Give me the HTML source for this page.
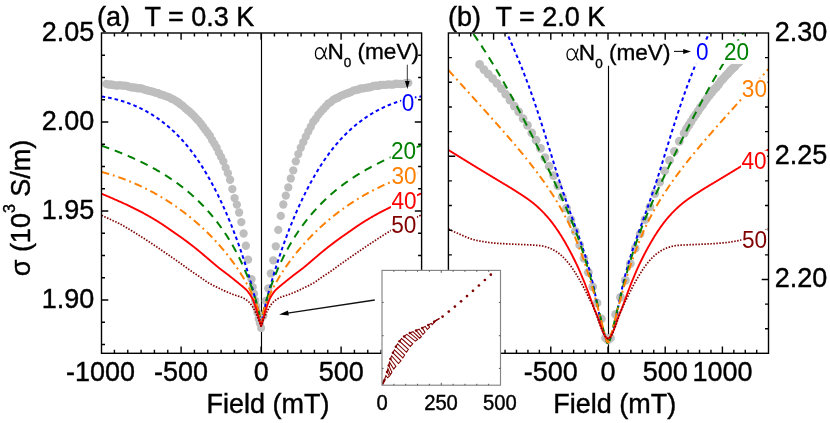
<!DOCTYPE html>
<html lang="en">
<head>
<meta charset="utf-8">
<title>Magnetoconductance</title>
<style>html,body{margin:0;padding:0;background:#fff;}body{width:830px;height:423px;overflow:hidden;font-family:"Liberation Sans", sans-serif;}svg{display:block}</style>
</head>
<body>
<svg width="830" height="423" viewBox="0 0 830 423" style="display:block;will-change:transform;font-family:'Liberation Sans', sans-serif">
<rect x="0" y="0" width="830" height="423" fill="#ffffff"/>
<defs>
<clipPath id="cl"><rect x="101.5" y="33" width="320.1" height="320.3"/></clipPath>
<clipPath id="cr"><rect x="448.4" y="33" width="320.1" height="320.3"/></clipPath>
<clipPath id="ci"><rect x="382" y="270.4" width="118.5" height="114.8"/></clipPath>
</defs>
<g clip-path="url(#cl)">
<line x1="261.5" y1="33" x2="261.5" y2="353.3" stroke="#000" stroke-width="1.15"/>
<g fill="#bebebe"><circle cx="259.9" cy="323.14" r="4.15"/><circle cx="258.7" cy="318.7" r="4.15"/><circle cx="257.5" cy="312.57" r="4.15"/><circle cx="256.3" cy="306.52" r="4.15"/><circle cx="255.1" cy="300.53" r="4.15"/><circle cx="253.9" cy="293.76" r="4.15"/><circle cx="252.7" cy="287.08" r="4.15"/><circle cx="251.5" cy="279.2" r="4.15"/><circle cx="248.1" cy="259.58" r="4.15"/><circle cx="245.85" cy="245.76" r="4.15"/><circle cx="243.6" cy="233.52" r="4.15"/><circle cx="241.35" cy="222.12" r="4.15"/><circle cx="239.1" cy="212.5" r="4.15"/><circle cx="236.85" cy="204.63" r="4.15"/><circle cx="234.6" cy="198.12" r="4.15"/><circle cx="232.35" cy="189.1" r="4.15"/><circle cx="230.1" cy="179.77" r="4.15"/><circle cx="227.85" cy="173.14" r="4.15"/><circle cx="225.6" cy="167.56" r="4.15"/><circle cx="223.35" cy="161.33" r="4.15"/><circle cx="221.1" cy="156.9" r="4.15"/><circle cx="218.85" cy="152.61" r="4.15"/><circle cx="216.6" cy="147.55" r="4.15"/><circle cx="214.35" cy="143.65" r="4.15"/><circle cx="212.1" cy="140.05" r="4.15"/><circle cx="209.85" cy="135.74" r="4.15"/><circle cx="207.6" cy="132.74" r="4.15"/><circle cx="205.35" cy="129.79" r="4.15"/><circle cx="203.1" cy="126.75" r="4.15"/><circle cx="200.85" cy="123.78" r="4.15"/><circle cx="198.6" cy="120.92" r="4.15"/><circle cx="196.35" cy="118.65" r="4.15"/><circle cx="194.1" cy="116.13" r="4.15"/><circle cx="191.85" cy="113.91" r="4.15"/><circle cx="189.6" cy="111.63" r="4.15"/><circle cx="187.35" cy="110.01" r="4.15"/><circle cx="185.1" cy="108.06" r="4.15"/><circle cx="182.85" cy="105.86" r="4.15"/><circle cx="180.6" cy="104.38" r="4.15"/><circle cx="178.35" cy="102.48" r="4.15"/><circle cx="176.1" cy="101.13" r="4.15"/><circle cx="173.85" cy="99.67" r="4.15"/><circle cx="171.6" cy="98.73" r="4.15"/><circle cx="169.35" cy="97.42" r="4.15"/><circle cx="167.1" cy="96.54" r="4.15"/><circle cx="164.85" cy="95.88" r="4.15"/><circle cx="162.6" cy="94.78" r="4.15"/><circle cx="160.35" cy="94.45" r="4.15"/><circle cx="158.1" cy="93.07" r="4.15"/><circle cx="155.85" cy="92.89" r="4.15"/><circle cx="153.6" cy="91.94" r="4.15"/><circle cx="151.35" cy="91.31" r="4.15"/><circle cx="149.1" cy="90.89" r="4.15"/><circle cx="146.85" cy="90.21" r="4.15"/><circle cx="144.6" cy="89.56" r="4.15"/><circle cx="142.35" cy="88.67" r="4.15"/><circle cx="140.1" cy="88.25" r="4.15"/><circle cx="137.85" cy="88.34" r="4.15"/><circle cx="135.6" cy="87.74" r="4.15"/><circle cx="133.35" cy="87.48" r="4.15"/><circle cx="131.1" cy="87.32" r="4.15"/><circle cx="128.85" cy="86.71" r="4.15"/><circle cx="126.6" cy="85.79" r="4.15"/><circle cx="124.35" cy="85.7" r="4.15"/><circle cx="122.1" cy="85.68" r="4.15"/><circle cx="119.85" cy="85.1" r="4.15"/><circle cx="117.6" cy="85.53" r="4.15"/><circle cx="115.35" cy="85.29" r="4.15"/><circle cx="113.1" cy="85.01" r="4.15"/><circle cx="110.85" cy="84.48" r="4.15"/><circle cx="108.6" cy="84.64" r="4.15"/><circle cx="106.35" cy="83.84" r="4.15"/></g>
<g fill="#bebebe"><circle cx="263.3" cy="315.83" r="4.15"/><circle cx="265.8" cy="300.87" r="4.15"/><circle cx="268.3" cy="288.37" r="4.15"/><circle cx="270.8" cy="273.45" r="4.15"/><circle cx="273.3" cy="260.3" r="4.15"/><circle cx="275.8" cy="246.3" r="4.15"/><circle cx="278.3" cy="229.93" r="4.15"/><circle cx="280.8" cy="215.92" r="4.15"/><circle cx="283.3" cy="204.48" r="4.15"/><circle cx="285.8" cy="195.58" r="4.15"/><circle cx="288.3" cy="187.4" r="4.15"/><circle cx="290.8" cy="178.47" r="4.15"/><circle cx="293.3" cy="170.32" r="4.15"/><circle cx="295.8" cy="161.34" r="4.15"/><circle cx="298.3" cy="154.08" r="4.15"/><circle cx="300.8" cy="147.76" r="4.15"/><circle cx="303.3" cy="142.17" r="4.15"/><circle cx="305.8" cy="136.67" r="4.15"/><circle cx="308.3" cy="131.49" r="4.15"/><circle cx="310.8" cy="126.7" r="4.15"/><circle cx="313.3" cy="121.71" r="4.15"/><circle cx="315.8" cy="118.71" r="4.15"/><circle cx="318.3" cy="114.8" r="4.15"/><circle cx="320.8" cy="111.84" r="4.15"/><circle cx="323.3" cy="109.16" r="4.15"/><circle cx="325.8" cy="106.39" r="4.15"/><circle cx="328.3" cy="103.55" r="4.15"/><circle cx="330.8" cy="102.08" r="4.15"/><circle cx="333.3" cy="99.81" r="4.15"/><circle cx="335.8" cy="98.49" r="4.15"/><circle cx="338.3" cy="97.48" r="4.15"/><circle cx="340.8" cy="95.85" r="4.15"/><circle cx="343.3" cy="94.85" r="4.15"/><circle cx="345.8" cy="93.9" r="4.15"/><circle cx="348.3" cy="93.01" r="4.15"/><circle cx="350.8" cy="92.06" r="4.15"/><circle cx="353.3" cy="90.56" r="4.15"/><circle cx="355.8" cy="90.18" r="4.15"/><circle cx="358.3" cy="89.52" r="4.15"/><circle cx="360.8" cy="88.5" r="4.15"/><circle cx="363.3" cy="88.32" r="4.15"/><circle cx="365.8" cy="87.81" r="4.15"/><circle cx="368.3" cy="87.49" r="4.15"/><circle cx="370.8" cy="87.13" r="4.15"/><circle cx="373.3" cy="86" r="4.15"/><circle cx="375.8" cy="85.72" r="4.15"/><circle cx="378.3" cy="85.77" r="4.15"/><circle cx="380.8" cy="84.99" r="4.15"/><circle cx="383.3" cy="84.79" r="4.15"/><circle cx="385.8" cy="84.87" r="4.15"/><circle cx="388.3" cy="84.29" r="4.15"/><circle cx="390.8" cy="84.67" r="4.15"/><circle cx="393.3" cy="84.57" r="4.15"/><circle cx="395.8" cy="83.67" r="4.15"/><circle cx="398.3" cy="83.95" r="4.15"/><circle cx="400.8" cy="84.01" r="4.15"/><circle cx="403.3" cy="83.97" r="4.15"/><circle cx="405.8" cy="83.13" r="4.15"/><circle cx="408.3" cy="82.82" r="4.15"/></g>
<circle cx="261.1" cy="328" r="4" fill="#bebebe"/>
<path d="M101.6 96.49 L102.1 96.56 L102.6 96.64 L103.1 96.71 L103.6 96.79 L104.1 96.87 L104.6 96.96 L105.1 97.04 L105.6 97.13 L106.1 97.21 L106.6 97.3 L107.1 97.39 L107.6 97.49 L108.1 97.58 L108.6 97.68 L109.1 97.78 L109.6 97.88 L110.1 97.98 L110.6 98.09 L111.1 98.2 L111.6 98.31 L112.1 98.42 L112.6 98.53 L113.1 98.64 L113.6 98.76 L114.1 98.88 L114.6 99 L115.1 99.12 L115.6 99.25 L116.1 99.37 L116.6 99.5 L117.1 99.64 L117.6 99.77 L118.1 99.9 L118.6 100.04 L119.1 100.18 L119.6 100.32 L120.1 100.47 L120.6 100.61 L121.1 100.76 L121.6 100.91 L122.1 101.06 L122.6 101.22 L123.1 101.37 L123.6 101.53 L124.1 101.69 L124.6 101.86 L125.1 102.02 L125.6 102.19 L126.1 102.36 L126.6 102.53 L127.1 102.71 L127.6 102.89 L128.1 103.07 L128.6 103.25 L129.1 103.43 L129.6 103.62 L130.1 103.81 L130.6 104 L131.1 104.19 L131.6 104.39 L132.1 104.59 L132.6 104.79 L133.1 104.99 L133.6 105.2 L134.1 105.41 L134.6 105.62 L135.1 105.83 L135.6 106.05 L136.1 106.27 L136.6 106.49 L137.1 106.71 L137.6 106.94 L138.1 107.17 L138.6 107.4 L139.1 107.63 L139.6 107.87 L140.1 108.11 L140.6 108.35 L141.1 108.6 L141.6 108.84 L142.1 109.09 L142.6 109.35 L143.1 109.6 L143.6 109.86 L144.1 110.12 L144.6 110.39 L145.1 110.66 L145.6 110.93 L146.1 111.2 L146.6 111.48 L147.1 111.75 L147.6 112.04 L148.1 112.32 L148.6 112.61 L149.1 112.9 L149.6 113.19 L150.1 113.49 L150.6 113.79 L151.1 114.09 L151.6 114.4 L152.1 114.71 L152.6 115.02 L153.1 115.34 L153.6 115.66 L154.1 115.98 L154.6 116.3 L155.1 116.63 L155.6 116.97 L156.1 117.3 L156.6 117.64 L157.1 117.98 L157.6 118.33 L158.1 118.68 L158.6 119.03 L159.1 119.38 L159.6 119.74 L160.1 120.1 L160.6 120.47 L161.1 120.84 L161.6 121.21 L162.1 121.59 L162.6 121.97 L163.1 122.36 L163.6 122.74 L164.1 123.13 L164.6 123.53 L165.1 123.93 L165.6 124.33 L166.1 124.74 L166.6 125.15 L167.1 125.56 L167.6 125.98 L168.1 126.41 L168.6 126.83 L169.1 127.26 L169.6 127.7 L170.1 128.14 L170.6 128.58 L171.1 129.03 L171.6 129.48 L172.1 129.93 L172.6 130.39 L173.1 130.86 L173.6 131.32 L174.1 131.8 L174.6 132.27 L175.1 132.75 L175.6 133.24 L176.1 133.73 L176.6 134.23 L177.1 134.73 L177.6 135.23 L178.1 135.74 L178.6 136.25 L179.1 136.77 L179.6 137.3 L180.1 137.82 L180.6 138.36 L181.1 138.9 L181.6 139.44 L182.1 139.99 L182.6 140.54 L183.1 141.1 L183.6 141.66 L184.1 142.23 L184.6 142.81 L185.1 143.38 L185.6 143.97 L186.1 144.56 L186.6 145.16 L187.1 145.76 L187.6 146.36 L188.1 146.98 L188.6 147.6 L189.1 148.22 L189.6 148.85 L190.1 149.49 L190.6 150.13 L191.1 150.78 L191.6 151.43 L192.1 152.09 L192.6 152.76 L193.1 153.43 L193.6 154.11 L194.1 154.79 L194.6 155.48 L195.1 156.18 L195.6 156.88 L196.1 157.59 L196.6 158.31 L197.1 159.03 L197.6 159.76 L198.1 160.49 L198.6 161.23 L199.1 161.98 L199.6 162.73 L200.1 163.49 L200.6 164.26 L201.1 165.03 L201.6 165.81 L202.1 166.59 L202.6 167.39 L203.1 168.19 L203.6 168.99 L204.1 169.8 L204.6 170.62 L205.1 171.45 L205.6 172.28 L206.1 173.12 L206.6 173.97 L207.1 174.82 L207.6 175.68 L208.1 176.55 L208.6 177.42 L209.1 178.3 L209.6 179.19 L210.1 180.08 L210.6 180.99 L211.1 181.89 L211.6 182.81 L212.1 183.73 L212.6 184.67 L213.1 185.6 L213.6 186.55 L214.1 187.5 L214.6 188.46 L215.1 189.43 L215.6 190.41 L216.1 191.39 L216.6 192.38 L217.1 193.38 L217.6 194.38 L218.1 195.4 L218.6 196.42 L219.1 197.45 L219.6 198.49 L220.1 199.53 L220.6 200.59 L221.1 201.65 L221.6 202.72 L222.1 203.8 L222.6 204.88 L223.1 205.98 L223.6 207.08 L224.1 208.19 L224.6 209.31 L225.1 210.44 L225.6 211.58 L226.1 212.72 L226.6 213.88 L227.1 215.04 L227.6 216.21 L228.1 217.4 L228.6 218.59 L229.1 219.79 L229.6 220.99 L230.1 222.21 L230.6 223.44 L231.1 224.68 L231.6 225.92 L232.1 227.18 L232.6 228.45 L233.1 229.72 L233.6 231.01 L234.1 232.31 L234.6 233.61 L235.1 234.93 L235.6 236.26 L236.1 237.6 L236.6 238.94 L237.1 240.3 L237.6 241.67 L238.1 243.06 L238.6 244.45 L239.1 245.85 L239.6 247.27 L240.1 248.7 L240.6 250.14 L241.1 251.59 L241.6 253.05 L242.1 254.53 L242.6 256.02 L243.1 257.52 L243.6 259.03 L244.1 260.56 L244.6 262.1 L245.1 263.66 L245.6 265.23 L246.1 266.81 L246.6 268.41 L247.1 270.02 L247.6 271.65 L248.1 273.29 L248.6 274.96 L249.1 276.63 L249.6 278.33 L250.1 280.04 L250.6 281.77 L251.1 283.52 L251.6 285.29 L252.1 287.07 L252.6 288.88 L253.1 290.71 L253.6 292.57 L254.1 294.44 L254.6 296.35 L255.1 298.28 L255.6 300.23 L256.1 302.22 L256.6 304.24 L257.1 306.3 L257.6 308.4 L258.1 310.54 L258.6 312.74 L259.1 315 L259.6 317.34 L260.1 319.79 L260.6 322.43 L261.1 326 L261.6 322.43 L262.1 319.79 L262.6 317.34 L263.1 315 L263.6 312.74 L264.1 310.54 L264.6 308.4 L265.1 306.3 L265.6 304.24 L266.1 302.22 L266.6 300.23 L267.1 298.28 L267.6 296.35 L268.1 294.44 L268.6 292.57 L269.1 290.71 L269.6 288.88 L270.1 287.07 L270.6 285.29 L271.1 283.52 L271.6 281.77 L272.1 280.04 L272.6 278.33 L273.1 276.63 L273.6 274.96 L274.1 273.29 L274.6 271.65 L275.1 270.02 L275.6 268.41 L276.1 266.81 L276.6 265.23 L277.1 263.66 L277.6 262.1 L278.1 260.56 L278.6 259.03 L279.1 257.52 L279.6 256.02 L280.1 254.53 L280.6 253.05 L281.1 251.59 L281.6 250.14 L282.1 248.7 L282.6 247.27 L283.1 245.85 L283.6 244.45 L284.1 243.06 L284.6 241.67 L285.1 240.3 L285.6 238.94 L286.1 237.6 L286.6 236.26 L287.1 234.93 L287.6 233.61 L288.1 232.31 L288.6 231.01 L289.1 229.72 L289.6 228.45 L290.1 227.18 L290.6 225.92 L291.1 224.68 L291.6 223.44 L292.1 222.21 L292.6 220.99 L293.1 219.79 L293.6 218.59 L294.1 217.4 L294.6 216.21 L295.1 215.04 L295.6 213.88 L296.1 212.72 L296.6 211.58 L297.1 210.44 L297.6 209.31 L298.1 208.19 L298.6 207.08 L299.1 205.98 L299.6 204.88 L300.1 203.8 L300.6 202.72 L301.1 201.65 L301.6 200.59 L302.1 199.53 L302.6 198.49 L303.1 197.45 L303.6 196.42 L304.1 195.4 L304.6 194.38 L305.1 193.38 L305.6 192.38 L306.1 191.39 L306.6 190.41 L307.1 189.43 L307.6 188.46 L308.1 187.5 L308.6 186.55 L309.1 185.6 L309.6 184.67 L310.1 183.73 L310.6 182.81 L311.1 181.89 L311.6 180.99 L312.1 180.08 L312.6 179.19 L313.1 178.3 L313.6 177.42 L314.1 176.55 L314.6 175.68 L315.1 174.82 L315.6 173.97 L316.1 173.12 L316.6 172.28 L317.1 171.45 L317.6 170.62 L318.1 169.8 L318.6 168.99 L319.1 168.19 L319.6 167.39 L320.1 166.59 L320.6 165.81 L321.1 165.03 L321.6 164.26 L322.1 163.49 L322.6 162.73 L323.1 161.98 L323.6 161.23 L324.1 160.49 L324.6 159.76 L325.1 159.03 L325.6 158.31 L326.1 157.59 L326.6 156.88 L327.1 156.18 L327.6 155.48 L328.1 154.79 L328.6 154.11 L329.1 153.43 L329.6 152.76 L330.1 152.09 L330.6 151.43 L331.1 150.78 L331.6 150.13 L332.1 149.49 L332.6 148.85 L333.1 148.22 L333.6 147.6 L334.1 146.98 L334.6 146.36 L335.1 145.76 L335.6 145.16 L336.1 144.56 L336.6 143.97 L337.1 143.38 L337.6 142.81 L338.1 142.23 L338.6 141.66 L339.1 141.1 L339.6 140.54 L340.1 139.99 L340.6 139.44 L341.1 138.9 L341.6 138.36 L342.1 137.82 L342.6 137.3 L343.1 136.77 L343.6 136.25 L344.1 135.74 L344.6 135.23 L345.1 134.73 L345.6 134.23 L346.1 133.73 L346.6 133.24 L347.1 132.75 L347.6 132.27 L348.1 131.8 L348.6 131.32 L349.1 130.86 L349.6 130.39 L350.1 129.93 L350.6 129.48 L351.1 129.03 L351.6 128.58 L352.1 128.14 L352.6 127.7 L353.1 127.26 L353.6 126.83 L354.1 126.41 L354.6 125.98 L355.1 125.56 L355.6 125.15 L356.1 124.74 L356.6 124.33 L357.1 123.93 L357.6 123.53 L358.1 123.13 L358.6 122.74 L359.1 122.36 L359.6 121.97 L360.1 121.59 L360.6 121.21 L361.1 120.84 L361.6 120.47 L362.1 120.1 L362.6 119.74 L363.1 119.38 L363.6 119.03 L364.1 118.68 L364.6 118.33 L365.1 117.98 L365.6 117.64 L366.1 117.3 L366.6 116.97 L367.1 116.63 L367.6 116.3 L368.1 115.98 L368.6 115.66 L369.1 115.34 L369.6 115.02 L370.1 114.71 L370.6 114.4 L371.1 114.09 L371.6 113.79 L372.1 113.49 L372.6 113.19 L373.1 112.9 L373.6 112.61 L374.1 112.32 L374.6 112.04 L375.1 111.75 L375.6 111.48 L376.1 111.2 L376.6 110.93 L377.1 110.66 L377.6 110.39 L378.1 110.12 L378.6 109.86 L379.1 109.6 L379.6 109.35 L380.1 109.09 L380.6 108.84 L381.1 108.6 L381.6 108.35 L382.1 108.11 L382.6 107.87 L383.1 107.63 L383.6 107.4 L384.1 107.17 L384.6 106.94 L385.1 106.71 L385.6 106.49 L386.1 106.27 L386.6 106.05 L387.1 105.83 L387.6 105.62 L388.1 105.41 L388.6 105.2 L389.1 104.99 L389.6 104.79 L390.1 104.59 L390.6 104.39 L391.1 104.19 L391.6 104 L392.1 103.81 L392.6 103.62 L393.1 103.43 L393.6 103.25 L394.1 103.07 L394.6 102.89 L395.1 102.71 L395.6 102.53 L396.1 102.36 L396.6 102.19 L397.1 102.02 L397.6 101.86 L398.1 101.69 L398.6 101.53 L399.1 101.37 L399.6 101.22 L400.1 101.06 L400.6 100.91 L401.1 100.76 L401.6 100.61 L402.1 100.47 L402.6 100.32 L403.1 100.18 L403.6 100.04 L404.1 99.9 L404.6 99.77 L405.1 99.64 L405.6 99.5 L406.1 99.37 L406.6 99.25 L407.1 99.12 L407.6 99 L408.1 98.88 L408.6 98.76 L409.1 98.64 L409.6 98.53 L410.1 98.42 L410.6 98.31 L411.1 98.2 L411.6 98.09 L412.1 97.98 L412.6 97.88 L413.1 97.78 L413.6 97.68 L414.1 97.58 L414.6 97.49 L415.1 97.39 L415.6 97.3 L416.1 97.21 L416.6 97.13 L417.1 97.04 L417.6 96.96 L418.1 96.87 L418.6 96.79 L419.1 96.71 L419.6 96.64 L420.1 96.56 L420.6 96.49 L421.1 96.42 L421.6 96.35" fill="none" stroke="#0000ff" stroke-width="2" stroke-dasharray="3.6 3" stroke-linejoin="round"/>
<path d="M101.6 145.68 L102.1 145.86 L102.6 146.04 L103.1 146.21 L103.6 146.39 L104.1 146.57 L104.6 146.75 L105.1 146.92 L105.6 147.1 L106.1 147.28 L106.6 147.47 L107.1 147.65 L107.6 147.83 L108.1 148.01 L108.6 148.2 L109.1 148.38 L109.6 148.56 L110.1 148.75 L110.6 148.94 L111.1 149.12 L111.6 149.31 L112.1 149.5 L112.6 149.69 L113.1 149.88 L113.6 150.07 L114.1 150.26 L114.6 150.45 L115.1 150.65 L115.6 150.84 L116.1 151.04 L116.6 151.23 L117.1 151.43 L117.6 151.62 L118.1 151.82 L118.6 152.02 L119.1 152.22 L119.6 152.42 L120.1 152.62 L120.6 152.82 L121.1 153.02 L121.6 153.23 L122.1 153.43 L122.6 153.64 L123.1 153.84 L123.6 154.05 L124.1 154.26 L124.6 154.46 L125.1 154.67 L125.6 154.88 L126.1 155.09 L126.6 155.31 L127.1 155.52 L127.6 155.73 L128.1 155.95 L128.6 156.16 L129.1 156.38 L129.6 156.6 L130.1 156.82 L130.6 157.04 L131.1 157.26 L131.6 157.48 L132.1 157.7 L132.6 157.92 L133.1 158.15 L133.6 158.37 L134.1 158.6 L134.6 158.83 L135.1 159.06 L135.6 159.29 L136.1 159.52 L136.6 159.75 L137.1 159.98 L137.6 160.22 L138.1 160.45 L138.6 160.69 L139.1 160.92 L139.6 161.16 L140.1 161.4 L140.6 161.64 L141.1 161.88 L141.6 162.13 L142.1 162.37 L142.6 162.62 L143.1 162.86 L143.6 163.11 L144.1 163.36 L144.6 163.61 L145.1 163.86 L145.6 164.11 L146.1 164.37 L146.6 164.62 L147.1 164.88 L147.6 165.14 L148.1 165.4 L148.6 165.66 L149.1 165.92 L149.6 166.18 L150.1 166.45 L150.6 166.71 L151.1 166.98 L151.6 167.25 L152.1 167.52 L152.6 167.79 L153.1 168.06 L153.6 168.34 L154.1 168.61 L154.6 168.89 L155.1 169.17 L155.6 169.45 L156.1 169.73 L156.6 170.01 L157.1 170.3 L157.6 170.58 L158.1 170.87 L158.6 171.16 L159.1 171.45 L159.6 171.75 L160.1 172.04 L160.6 172.34 L161.1 172.63 L161.6 172.93 L162.1 173.23 L162.6 173.54 L163.1 173.84 L163.6 174.15 L164.1 174.46 L164.6 174.76 L165.1 175.08 L165.6 175.39 L166.1 175.71 L166.6 176.02 L167.1 176.34 L167.6 176.66 L168.1 176.98 L168.6 177.31 L169.1 177.64 L169.6 177.96 L170.1 178.3 L170.6 178.63 L171.1 178.96 L171.6 179.3 L172.1 179.64 L172.6 179.98 L173.1 180.32 L173.6 180.67 L174.1 181.02 L174.6 181.36 L175.1 181.72 L175.6 182.07 L176.1 182.43 L176.6 182.79 L177.1 183.15 L177.6 183.51 L178.1 183.88 L178.6 184.24 L179.1 184.61 L179.6 184.99 L180.1 185.36 L180.6 185.74 L181.1 186.12 L181.6 186.5 L182.1 186.89 L182.6 187.28 L183.1 187.67 L183.6 188.06 L184.1 188.46 L184.6 188.86 L185.1 189.26 L185.6 189.66 L186.1 190.07 L186.6 190.48 L187.1 190.89 L187.6 191.31 L188.1 191.73 L188.6 192.15 L189.1 192.58 L189.6 193 L190.1 193.43 L190.6 193.87 L191.1 194.31 L191.6 194.75 L192.1 195.19 L192.6 195.64 L193.1 196.09 L193.6 196.54 L194.1 197 L194.6 197.45 L195.1 197.92 L195.6 198.38 L196.1 198.85 L196.6 199.33 L197.1 199.8 L197.6 200.28 L198.1 200.77 L198.6 201.25 L199.1 201.74 L199.6 202.24 L200.1 202.73 L200.6 203.24 L201.1 203.74 L201.6 204.25 L202.1 204.76 L202.6 205.28 L203.1 205.8 L203.6 206.32 L204.1 206.85 L204.6 207.38 L205.1 207.92 L205.6 208.46 L206.1 209 L206.6 209.55 L207.1 210.1 L207.6 210.66 L208.1 211.22 L208.6 211.78 L209.1 212.35 L209.6 212.93 L210.1 213.51 L210.6 214.09 L211.1 214.68 L211.6 215.27 L212.1 215.87 L212.6 216.47 L213.1 217.07 L213.6 217.69 L214.1 218.3 L214.6 218.92 L215.1 219.55 L215.6 220.18 L216.1 220.82 L216.6 221.46 L217.1 222.11 L217.6 222.76 L218.1 223.42 L218.6 224.08 L219.1 224.75 L219.6 225.43 L220.1 226.11 L220.6 226.79 L221.1 227.49 L221.6 228.19 L222.1 228.89 L222.6 229.6 L223.1 230.32 L223.6 231.05 L224.1 231.78 L224.6 232.52 L225.1 233.26 L225.6 234.01 L226.1 234.77 L226.6 235.54 L227.1 236.31 L227.6 237.09 L228.1 237.88 L228.6 238.68 L229.1 239.48 L229.6 240.3 L230.1 241.12 L230.6 241.95 L231.1 242.79 L231.6 243.63 L232.1 244.49 L232.6 245.36 L233.1 246.23 L233.6 247.12 L234.1 248.01 L234.6 248.92 L235.1 249.83 L235.6 250.76 L236.1 251.69 L236.6 252.64 L237.1 253.6 L237.6 254.57 L238.1 255.55 L238.6 256.55 L239.1 257.55 L239.6 258.57 L240.1 259.6 L240.6 260.64 L241.1 261.69 L241.6 262.76 L242.1 263.84 L242.6 264.94 L243.1 266.05 L243.6 267.17 L244.1 268.31 L244.6 269.46 L245.1 270.63 L245.6 271.81 L246.1 273.01 L246.6 274.22 L247.1 275.45 L247.6 276.7 L248.1 277.97 L248.6 279.26 L249.1 280.56 L249.6 281.89 L250.1 283.23 L250.6 284.6 L251.1 285.99 L251.6 287.41 L252.1 288.85 L252.6 290.31 L253.1 291.8 L253.6 293.33 L254.1 294.88 L254.6 296.47 L255.1 298.09 L255.6 299.76 L256.1 301.46 L256.6 303.22 L257.1 305.03 L257.6 306.9 L258.1 308.85 L258.6 310.89 L259.1 313.04 L259.6 315.33 L260.1 317.86 L260.6 320.79 L261.1 326 L261.6 320.79 L262.1 317.86 L262.6 315.33 L263.1 313.04 L263.6 310.89 L264.1 308.85 L264.6 306.9 L265.1 305.03 L265.6 303.22 L266.1 301.46 L266.6 299.76 L267.1 298.09 L267.6 296.47 L268.1 294.88 L268.6 293.33 L269.1 291.8 L269.6 290.31 L270.1 288.85 L270.6 287.41 L271.1 285.99 L271.6 284.6 L272.1 283.23 L272.6 281.89 L273.1 280.56 L273.6 279.26 L274.1 277.97 L274.6 276.7 L275.1 275.45 L275.6 274.22 L276.1 273.01 L276.6 271.81 L277.1 270.63 L277.6 269.46 L278.1 268.31 L278.6 267.17 L279.1 266.05 L279.6 264.94 L280.1 263.84 L280.6 262.76 L281.1 261.69 L281.6 260.64 L282.1 259.6 L282.6 258.57 L283.1 257.55 L283.6 256.55 L284.1 255.55 L284.6 254.57 L285.1 253.6 L285.6 252.64 L286.1 251.69 L286.6 250.76 L287.1 249.83 L287.6 248.92 L288.1 248.01 L288.6 247.12 L289.1 246.23 L289.6 245.36 L290.1 244.49 L290.6 243.63 L291.1 242.79 L291.6 241.95 L292.1 241.12 L292.6 240.3 L293.1 239.48 L293.6 238.68 L294.1 237.88 L294.6 237.09 L295.1 236.31 L295.6 235.54 L296.1 234.77 L296.6 234.01 L297.1 233.26 L297.6 232.52 L298.1 231.78 L298.6 231.05 L299.1 230.32 L299.6 229.6 L300.1 228.89 L300.6 228.19 L301.1 227.49 L301.6 226.79 L302.1 226.11 L302.6 225.43 L303.1 224.75 L303.6 224.08 L304.1 223.42 L304.6 222.76 L305.1 222.11 L305.6 221.46 L306.1 220.82 L306.6 220.18 L307.1 219.55 L307.6 218.92 L308.1 218.3 L308.6 217.69 L309.1 217.07 L309.6 216.47 L310.1 215.87 L310.6 215.27 L311.1 214.68 L311.6 214.09 L312.1 213.51 L312.6 212.93 L313.1 212.35 L313.6 211.78 L314.1 211.22 L314.6 210.66 L315.1 210.1 L315.6 209.55 L316.1 209 L316.6 208.46 L317.1 207.92 L317.6 207.38 L318.1 206.85 L318.6 206.32 L319.1 205.8 L319.6 205.28 L320.1 204.76 L320.6 204.25 L321.1 203.74 L321.6 203.24 L322.1 202.73 L322.6 202.24 L323.1 201.74 L323.6 201.25 L324.1 200.77 L324.6 200.28 L325.1 199.8 L325.6 199.33 L326.1 198.85 L326.6 198.38 L327.1 197.92 L327.6 197.45 L328.1 197 L328.6 196.54 L329.1 196.09 L329.6 195.64 L330.1 195.19 L330.6 194.75 L331.1 194.31 L331.6 193.87 L332.1 193.43 L332.6 193 L333.1 192.58 L333.6 192.15 L334.1 191.73 L334.6 191.31 L335.1 190.89 L335.6 190.48 L336.1 190.07 L336.6 189.66 L337.1 189.26 L337.6 188.86 L338.1 188.46 L338.6 188.06 L339.1 187.67 L339.6 187.28 L340.1 186.89 L340.6 186.5 L341.1 186.12 L341.6 185.74 L342.1 185.36 L342.6 184.99 L343.1 184.61 L343.6 184.24 L344.1 183.88 L344.6 183.51 L345.1 183.15 L345.6 182.79 L346.1 182.43 L346.6 182.07 L347.1 181.72 L347.6 181.36 L348.1 181.02 L348.6 180.67 L349.1 180.32 L349.6 179.98 L350.1 179.64 L350.6 179.3 L351.1 178.96 L351.6 178.63 L352.1 178.3 L352.6 177.96 L353.1 177.64 L353.6 177.31 L354.1 176.98 L354.6 176.66 L355.1 176.34 L355.6 176.02 L356.1 175.71 L356.6 175.39 L357.1 175.08 L357.6 174.76 L358.1 174.46 L358.6 174.15 L359.1 173.84 L359.6 173.54 L360.1 173.23 L360.6 172.93 L361.1 172.63 L361.6 172.34 L362.1 172.04 L362.6 171.75 L363.1 171.45 L363.6 171.16 L364.1 170.87 L364.6 170.58 L365.1 170.3 L365.6 170.01 L366.1 169.73 L366.6 169.45 L367.1 169.17 L367.6 168.89 L368.1 168.61 L368.6 168.34 L369.1 168.06 L369.6 167.79 L370.1 167.52 L370.6 167.25 L371.1 166.98 L371.6 166.71 L372.1 166.45 L372.6 166.18 L373.1 165.92 L373.6 165.66 L374.1 165.4 L374.6 165.14 L375.1 164.88 L375.6 164.62 L376.1 164.37 L376.6 164.11 L377.1 163.86 L377.6 163.61 L378.1 163.36 L378.6 163.11 L379.1 162.86 L379.6 162.62 L380.1 162.37 L380.6 162.13 L381.1 161.88 L381.6 161.64 L382.1 161.4 L382.6 161.16 L383.1 160.92 L383.6 160.69 L384.1 160.45 L384.6 160.22 L385.1 159.98 L385.6 159.75 L386.1 159.52 L386.6 159.29 L387.1 159.06 L387.6 158.83 L388.1 158.6 L388.6 158.37 L389.1 158.15 L389.6 157.92 L390.1 157.7 L390.6 157.48 L391.1 157.26 L391.6 157.04 L392.1 156.82 L392.6 156.6 L393.1 156.38 L393.6 156.16 L394.1 155.95 L394.6 155.73 L395.1 155.52 L395.6 155.31 L396.1 155.09 L396.6 154.88 L397.1 154.67 L397.6 154.46 L398.1 154.26 L398.6 154.05 L399.1 153.84 L399.6 153.64 L400.1 153.43 L400.6 153.23 L401.1 153.02 L401.6 152.82 L402.1 152.62 L402.6 152.42 L403.1 152.22 L403.6 152.02 L404.1 151.82 L404.6 151.62 L405.1 151.43 L405.6 151.23 L406.1 151.04 L406.6 150.84 L407.1 150.65 L407.6 150.45 L408.1 150.26 L408.6 150.07 L409.1 149.88 L409.6 149.69 L410.1 149.5 L410.6 149.31 L411.1 149.12 L411.6 148.94 L412.1 148.75 L412.6 148.56 L413.1 148.38 L413.6 148.2 L414.1 148.01 L414.6 147.83 L415.1 147.65 L415.6 147.47 L416.1 147.28 L416.6 147.1 L417.1 146.92 L417.6 146.75 L418.1 146.57 L418.6 146.39 L419.1 146.21 L419.6 146.04 L420.1 145.86 L420.6 145.68 L421.1 145.51 L421.6 145.34" fill="none" stroke="#008000" stroke-width="2" stroke-dasharray="8 6" stroke-linejoin="round"/>
<path d="M101.6 171.93 L102.1 172.07 L102.6 172.2 L103.1 172.34 L103.6 172.48 L104.1 172.62 L104.6 172.76 L105.1 172.9 L105.6 173.04 L106.1 173.18 L106.6 173.33 L107.1 173.47 L107.6 173.62 L108.1 173.77 L108.6 173.92 L109.1 174.07 L109.6 174.22 L110.1 174.38 L110.6 174.53 L111.1 174.69 L111.6 174.84 L112.1 175 L112.6 175.16 L113.1 175.32 L113.6 175.48 L114.1 175.65 L114.6 175.81 L115.1 175.98 L115.6 176.14 L116.1 176.31 L116.6 176.48 L117.1 176.65 L117.6 176.82 L118.1 176.99 L118.6 177.17 L119.1 177.34 L119.6 177.52 L120.1 177.7 L120.6 177.88 L121.1 178.06 L121.6 178.24 L122.1 178.42 L122.6 178.61 L123.1 178.79 L123.6 178.98 L124.1 179.17 L124.6 179.36 L125.1 179.55 L125.6 179.74 L126.1 179.93 L126.6 180.13 L127.1 180.32 L127.6 180.52 L128.1 180.72 L128.6 180.92 L129.1 181.12 L129.6 181.32 L130.1 181.53 L130.6 181.73 L131.1 181.94 L131.6 182.15 L132.1 182.36 L132.6 182.57 L133.1 182.78 L133.6 182.99 L134.1 183.21 L134.6 183.42 L135.1 183.64 L135.6 183.86 L136.1 184.08 L136.6 184.3 L137.1 184.53 L137.6 184.75 L138.1 184.98 L138.6 185.2 L139.1 185.43 L139.6 185.66 L140.1 185.89 L140.6 186.13 L141.1 186.36 L141.6 186.6 L142.1 186.83 L142.6 187.07 L143.1 187.31 L143.6 187.55 L144.1 187.8 L144.6 188.04 L145.1 188.29 L145.6 188.53 L146.1 188.78 L146.6 189.03 L147.1 189.28 L147.6 189.54 L148.1 189.79 L148.6 190.05 L149.1 190.31 L149.6 190.56 L150.1 190.83 L150.6 191.09 L151.1 191.35 L151.6 191.62 L152.1 191.88 L152.6 192.15 L153.1 192.42 L153.6 192.69 L154.1 192.97 L154.6 193.24 L155.1 193.52 L155.6 193.79 L156.1 194.07 L156.6 194.35 L157.1 194.64 L157.6 194.92 L158.1 195.21 L158.6 195.49 L159.1 195.78 L159.6 196.07 L160.1 196.36 L160.6 196.66 L161.1 196.95 L161.6 197.25 L162.1 197.55 L162.6 197.85 L163.1 198.15 L163.6 198.46 L164.1 198.76 L164.6 199.07 L165.1 199.38 L165.6 199.69 L166.1 200 L166.6 200.31 L167.1 200.63 L167.6 200.95 L168.1 201.26 L168.6 201.58 L169.1 201.91 L169.6 202.23 L170.1 202.56 L170.6 202.89 L171.1 203.21 L171.6 203.55 L172.1 203.88 L172.6 204.21 L173.1 204.55 L173.6 204.89 L174.1 205.23 L174.6 205.57 L175.1 205.92 L175.6 206.26 L176.1 206.61 L176.6 206.96 L177.1 207.31 L177.6 207.67 L178.1 208.02 L178.6 208.38 L179.1 208.74 L179.6 209.1 L180.1 209.46 L180.6 209.83 L181.1 210.19 L181.6 210.56 L182.1 210.93 L182.6 211.31 L183.1 211.68 L183.6 212.06 L184.1 212.44 L184.6 212.82 L185.1 213.2 L185.6 213.59 L186.1 213.97 L186.6 214.36 L187.1 214.76 L187.6 215.15 L188.1 215.55 L188.6 215.94 L189.1 216.34 L189.6 216.75 L190.1 217.15 L190.6 217.56 L191.1 217.96 L191.6 218.38 L192.1 218.79 L192.6 219.2 L193.1 219.62 L193.6 220.04 L194.1 220.46 L194.6 220.89 L195.1 221.32 L195.6 221.74 L196.1 222.18 L196.6 222.61 L197.1 223.05 L197.6 223.48 L198.1 223.93 L198.6 224.37 L199.1 224.82 L199.6 225.26 L200.1 225.71 L200.6 226.17 L201.1 226.62 L201.6 227.08 L202.1 227.54 L202.6 228.01 L203.1 228.47 L203.6 228.94 L204.1 229.41 L204.6 229.89 L205.1 230.37 L205.6 230.84 L206.1 231.33 L206.6 231.81 L207.1 232.3 L207.6 232.79 L208.1 233.28 L208.6 233.78 L209.1 234.28 L209.6 234.78 L210.1 235.29 L210.6 235.79 L211.1 236.31 L211.6 236.82 L212.1 237.34 L212.6 237.86 L213.1 238.38 L213.6 238.91 L214.1 239.44 L214.6 239.97 L215.1 240.5 L215.6 241.04 L216.1 241.59 L216.6 242.13 L217.1 242.68 L217.6 243.23 L218.1 243.79 L218.6 244.35 L219.1 244.91 L219.6 245.48 L220.1 246.05 L220.6 246.62 L221.1 247.2 L221.6 247.78 L222.1 248.37 L222.6 248.96 L223.1 249.55 L223.6 250.15 L224.1 250.75 L224.6 251.35 L225.1 251.96 L225.6 252.58 L226.1 253.19 L226.6 253.82 L227.1 254.44 L227.6 255.07 L228.1 255.71 L228.6 256.35 L229.1 256.99 L229.6 257.64 L230.1 258.29 L230.6 258.95 L231.1 259.62 L231.6 260.29 L232.1 260.96 L232.6 261.64 L233.1 262.33 L233.6 263.02 L234.1 263.71 L234.6 264.41 L235.1 265.12 L235.6 265.83 L236.1 266.55 L236.6 267.28 L237.1 268.01 L237.6 268.75 L238.1 269.49 L238.6 270.25 L239.1 271 L239.6 271.77 L240.1 272.54 L240.6 273.33 L241.1 274.11 L241.6 274.91 L242.1 275.72 L242.6 276.53 L243.1 277.35 L243.6 278.18 L244.1 279.03 L244.6 279.88 L245.1 280.74 L245.6 281.61 L246.1 282.49 L246.6 283.38 L247.1 284.29 L247.6 285.21 L248.1 286.14 L248.6 287.08 L249.1 288.04 L249.6 289.02 L250.1 290.01 L250.6 291.01 L251.1 292.04 L251.6 293.08 L252.1 294.14 L252.6 295.23 L253.1 296.34 L253.6 297.47 L254.1 298.64 L254.6 299.83 L255.1 301.06 L255.6 302.33 L256.1 303.63 L256.6 304.99 L257.1 306.4 L257.6 307.89 L258.1 309.45 L258.6 311.11 L259.1 312.91 L259.6 314.88 L260.1 317.15 L260.6 319.95 L261.1 326 L261.6 319.95 L262.1 317.15 L262.6 314.88 L263.1 312.91 L263.6 311.11 L264.1 309.45 L264.6 307.89 L265.1 306.4 L265.6 304.99 L266.1 303.63 L266.6 302.33 L267.1 301.06 L267.6 299.83 L268.1 298.64 L268.6 297.47 L269.1 296.34 L269.6 295.23 L270.1 294.14 L270.6 293.08 L271.1 292.04 L271.6 291.01 L272.1 290.01 L272.6 289.02 L273.1 288.04 L273.6 287.08 L274.1 286.14 L274.6 285.21 L275.1 284.29 L275.6 283.38 L276.1 282.49 L276.6 281.61 L277.1 280.74 L277.6 279.88 L278.1 279.03 L278.6 278.18 L279.1 277.35 L279.6 276.53 L280.1 275.72 L280.6 274.91 L281.1 274.11 L281.6 273.33 L282.1 272.54 L282.6 271.77 L283.1 271 L283.6 270.25 L284.1 269.49 L284.6 268.75 L285.1 268.01 L285.6 267.28 L286.1 266.55 L286.6 265.83 L287.1 265.12 L287.6 264.41 L288.1 263.71 L288.6 263.02 L289.1 262.33 L289.6 261.64 L290.1 260.96 L290.6 260.29 L291.1 259.62 L291.6 258.95 L292.1 258.29 L292.6 257.64 L293.1 256.99 L293.6 256.35 L294.1 255.71 L294.6 255.07 L295.1 254.44 L295.6 253.82 L296.1 253.19 L296.6 252.58 L297.1 251.96 L297.6 251.35 L298.1 250.75 L298.6 250.15 L299.1 249.55 L299.6 248.96 L300.1 248.37 L300.6 247.78 L301.1 247.2 L301.6 246.62 L302.1 246.05 L302.6 245.48 L303.1 244.91 L303.6 244.35 L304.1 243.79 L304.6 243.23 L305.1 242.68 L305.6 242.13 L306.1 241.59 L306.6 241.04 L307.1 240.5 L307.6 239.97 L308.1 239.44 L308.6 238.91 L309.1 238.38 L309.6 237.86 L310.1 237.34 L310.6 236.82 L311.1 236.31 L311.6 235.79 L312.1 235.29 L312.6 234.78 L313.1 234.28 L313.6 233.78 L314.1 233.28 L314.6 232.79 L315.1 232.3 L315.6 231.81 L316.1 231.33 L316.6 230.84 L317.1 230.37 L317.6 229.89 L318.1 229.41 L318.6 228.94 L319.1 228.47 L319.6 228.01 L320.1 227.54 L320.6 227.08 L321.1 226.62 L321.6 226.17 L322.1 225.71 L322.6 225.26 L323.1 224.82 L323.6 224.37 L324.1 223.93 L324.6 223.48 L325.1 223.05 L325.6 222.61 L326.1 222.18 L326.6 221.74 L327.1 221.32 L327.6 220.89 L328.1 220.46 L328.6 220.04 L329.1 219.62 L329.6 219.2 L330.1 218.79 L330.6 218.38 L331.1 217.96 L331.6 217.56 L332.1 217.15 L332.6 216.75 L333.1 216.34 L333.6 215.94 L334.1 215.55 L334.6 215.15 L335.1 214.76 L335.6 214.36 L336.1 213.97 L336.6 213.59 L337.1 213.2 L337.6 212.82 L338.1 212.44 L338.6 212.06 L339.1 211.68 L339.6 211.31 L340.1 210.93 L340.6 210.56 L341.1 210.19 L341.6 209.83 L342.1 209.46 L342.6 209.1 L343.1 208.74 L343.6 208.38 L344.1 208.02 L344.6 207.67 L345.1 207.31 L345.6 206.96 L346.1 206.61 L346.6 206.26 L347.1 205.92 L347.6 205.57 L348.1 205.23 L348.6 204.89 L349.1 204.55 L349.6 204.21 L350.1 203.88 L350.6 203.55 L351.1 203.21 L351.6 202.89 L352.1 202.56 L352.6 202.23 L353.1 201.91 L353.6 201.58 L354.1 201.26 L354.6 200.95 L355.1 200.63 L355.6 200.31 L356.1 200 L356.6 199.69 L357.1 199.38 L357.6 199.07 L358.1 198.76 L358.6 198.46 L359.1 198.15 L359.6 197.85 L360.1 197.55 L360.6 197.25 L361.1 196.95 L361.6 196.66 L362.1 196.36 L362.6 196.07 L363.1 195.78 L363.6 195.49 L364.1 195.21 L364.6 194.92 L365.1 194.64 L365.6 194.35 L366.1 194.07 L366.6 193.79 L367.1 193.52 L367.6 193.24 L368.1 192.97 L368.6 192.69 L369.1 192.42 L369.6 192.15 L370.1 191.88 L370.6 191.62 L371.1 191.35 L371.6 191.09 L372.1 190.83 L372.6 190.56 L373.1 190.31 L373.6 190.05 L374.1 189.79 L374.6 189.54 L375.1 189.28 L375.6 189.03 L376.1 188.78 L376.6 188.53 L377.1 188.29 L377.6 188.04 L378.1 187.8 L378.6 187.55 L379.1 187.31 L379.6 187.07 L380.1 186.83 L380.6 186.6 L381.1 186.36 L381.6 186.13 L382.1 185.89 L382.6 185.66 L383.1 185.43 L383.6 185.2 L384.1 184.98 L384.6 184.75 L385.1 184.53 L385.6 184.3 L386.1 184.08 L386.6 183.86 L387.1 183.64 L387.6 183.42 L388.1 183.21 L388.6 182.99 L389.1 182.78 L389.6 182.57 L390.1 182.36 L390.6 182.15 L391.1 181.94 L391.6 181.73 L392.1 181.53 L392.6 181.32 L393.1 181.12 L393.6 180.92 L394.1 180.72 L394.6 180.52 L395.1 180.32 L395.6 180.13 L396.1 179.93 L396.6 179.74 L397.1 179.55 L397.6 179.36 L398.1 179.17 L398.6 178.98 L399.1 178.79 L399.6 178.61 L400.1 178.42 L400.6 178.24 L401.1 178.06 L401.6 177.88 L402.1 177.7 L402.6 177.52 L403.1 177.34 L403.6 177.17 L404.1 176.99 L404.6 176.82 L405.1 176.65 L405.6 176.48 L406.1 176.31 L406.6 176.14 L407.1 175.98 L407.6 175.81 L408.1 175.65 L408.6 175.48 L409.1 175.32 L409.6 175.16 L410.1 175 L410.6 174.84 L411.1 174.69 L411.6 174.53 L412.1 174.38 L412.6 174.22 L413.1 174.07 L413.6 173.92 L414.1 173.77 L414.6 173.62 L415.1 173.47 L415.6 173.33 L416.1 173.18 L416.6 173.04 L417.1 172.9 L417.6 172.76 L418.1 172.62 L418.6 172.48 L419.1 172.34 L419.6 172.2 L420.1 172.07 L420.6 171.93 L421.1 171.8 L421.6 171.67" fill="none" stroke="#ff8000" stroke-width="2" stroke-dasharray="7.8 3.9 1.9 3.9" stroke-linejoin="round"/>
<path d="M101.6 193.79 L102.1 193.99 L102.6 194.19 L103.1 194.39 L103.6 194.59 L104.1 194.8 L104.6 195.01 L105.1 195.21 L105.6 195.42 L106.1 195.63 L106.6 195.84 L107.1 196.06 L107.6 196.27 L108.1 196.48 L108.6 196.7 L109.1 196.91 L109.6 197.13 L110.1 197.34 L110.6 197.56 L111.1 197.78 L111.6 198 L112.1 198.22 L112.6 198.43 L113.1 198.65 L113.6 198.87 L114.1 199.09 L114.6 199.31 L115.1 199.53 L115.6 199.76 L116.1 199.98 L116.6 200.2 L117.1 200.42 L117.6 200.64 L118.1 200.86 L118.6 201.08 L119.1 201.3 L119.6 201.52 L120.1 201.74 L120.6 201.97 L121.1 202.19 L121.6 202.41 L122.1 202.63 L122.6 202.86 L123.1 203.08 L123.6 203.31 L124.1 203.53 L124.6 203.76 L125.1 203.99 L125.6 204.21 L126.1 204.44 L126.6 204.67 L127.1 204.9 L127.6 205.14 L128.1 205.37 L128.6 205.61 L129.1 205.84 L129.6 206.08 L130.1 206.32 L130.6 206.56 L131.1 206.8 L131.6 207.04 L132.1 207.29 L132.6 207.53 L133.1 207.78 L133.6 208.03 L134.1 208.28 L134.6 208.53 L135.1 208.78 L135.6 209.03 L136.1 209.28 L136.6 209.54 L137.1 209.79 L137.6 210.05 L138.1 210.31 L138.6 210.57 L139.1 210.83 L139.6 211.09 L140.1 211.35 L140.6 211.62 L141.1 211.88 L141.6 212.15 L142.1 212.42 L142.6 212.68 L143.1 212.95 L143.6 213.23 L144.1 213.5 L144.6 213.77 L145.1 214.05 L145.6 214.32 L146.1 214.6 L146.6 214.88 L147.1 215.16 L147.6 215.44 L148.1 215.72 L148.6 216.01 L149.1 216.29 L149.6 216.58 L150.1 216.87 L150.6 217.16 L151.1 217.45 L151.6 217.74 L152.1 218.03 L152.6 218.33 L153.1 218.63 L153.6 218.92 L154.1 219.22 L154.6 219.52 L155.1 219.83 L155.6 220.13 L156.1 220.43 L156.6 220.74 L157.1 221.05 L157.6 221.36 L158.1 221.67 L158.6 221.98 L159.1 222.29 L159.6 222.61 L160.1 222.93 L160.6 223.24 L161.1 223.56 L161.6 223.89 L162.1 224.21 L162.6 224.54 L163.1 224.87 L163.6 225.21 L164.1 225.54 L164.6 225.88 L165.1 226.22 L165.6 226.56 L166.1 226.91 L166.6 227.25 L167.1 227.6 L167.6 227.95 L168.1 228.3 L168.6 228.65 L169.1 229 L169.6 229.35 L170.1 229.7 L170.6 230.05 L171.1 230.4 L171.6 230.75 L172.1 231.1 L172.6 231.45 L173.1 231.8 L173.6 232.15 L174.1 232.5 L174.6 232.84 L175.1 233.19 L175.6 233.54 L176.1 233.89 L176.6 234.23 L177.1 234.58 L177.6 234.93 L178.1 235.28 L178.6 235.63 L179.1 235.98 L179.6 236.33 L180.1 236.68 L180.6 237.03 L181.1 237.39 L181.6 237.74 L182.1 238.1 L182.6 238.45 L183.1 238.81 L183.6 239.17 L184.1 239.54 L184.6 239.9 L185.1 240.26 L185.6 240.63 L186.1 241 L186.6 241.37 L187.1 241.74 L187.6 242.12 L188.1 242.49 L188.6 242.87 L189.1 243.25 L189.6 243.63 L190.1 244.01 L190.6 244.39 L191.1 244.77 L191.6 245.16 L192.1 245.55 L192.6 245.93 L193.1 246.32 L193.6 246.72 L194.1 247.11 L194.6 247.5 L195.1 247.9 L195.6 248.29 L196.1 248.69 L196.6 249.09 L197.1 249.49 L197.6 249.9 L198.1 250.3 L198.6 250.71 L199.1 251.12 L199.6 251.53 L200.1 251.94 L200.6 252.36 L201.1 252.78 L201.6 253.2 L202.1 253.62 L202.6 254.05 L203.1 254.48 L203.6 254.9 L204.1 255.33 L204.6 255.76 L205.1 256.19 L205.6 256.62 L206.1 257.05 L206.6 257.47 L207.1 257.9 L207.6 258.33 L208.1 258.75 L208.6 259.18 L209.1 259.6 L209.6 260.02 L210.1 260.45 L210.6 260.87 L211.1 261.3 L211.6 261.73 L212.1 262.16 L212.6 262.58 L213.1 263.01 L213.6 263.44 L214.1 263.87 L214.6 264.29 L215.1 264.72 L215.6 265.14 L216.1 265.56 L216.6 265.98 L217.1 266.39 L217.6 266.8 L218.1 267.21 L218.6 267.62 L219.1 268.02 L219.6 268.42 L220.1 268.81 L220.6 269.2 L221.1 269.58 L221.6 269.96 L222.1 270.34 L222.6 270.72 L223.1 271.09 L223.6 271.46 L224.1 271.83 L224.6 272.21 L225.1 272.58 L225.6 272.95 L226.1 273.32 L226.6 273.69 L227.1 274.07 L227.6 274.45 L228.1 274.83 L228.6 275.21 L229.1 275.6 L229.6 275.99 L230.1 276.38 L230.6 276.78 L231.1 277.18 L231.6 277.57 L232.1 277.97 L232.6 278.37 L233.1 278.78 L233.6 279.18 L234.1 279.58 L234.6 279.99 L235.1 280.39 L235.6 280.8 L236.1 281.2 L236.6 281.6 L237.1 282.01 L237.6 282.41 L238.1 282.82 L238.6 283.22 L239.1 283.63 L239.6 284.04 L240.1 284.45 L240.6 284.86 L241.1 285.27 L241.6 285.68 L242.1 286.1 L242.6 286.52 L243.1 286.94 L243.6 287.36 L244.1 287.8 L244.6 288.24 L245.1 288.67 L245.6 289.11 L246.1 289.57 L246.6 290.07 L247.1 290.6 L247.6 291.2 L248.1 291.87 L248.6 292.58 L249.1 293.3 L249.6 294.01 L250.1 294.73 L250.6 295.49 L251.1 296.3 L251.6 297.17 L252.1 298.1 L252.6 299.11 L253.1 300.2 L253.6 301.43 L254.1 302.8 L254.6 304.24 L255.1 305.69 L255.6 307.12 L256.1 308.6 L256.6 310.17 L257.1 311.91 L257.6 313.82 L258.1 315.76 L258.6 317.6 L259.1 319.41 L259.6 321.16 L260.1 322.83 L260.6 324.45 L261.1 326 L261.6 324.45 L262.1 322.83 L262.6 321.16 L263.1 319.41 L263.6 317.6 L264.1 315.76 L264.6 313.82 L265.1 311.91 L265.6 310.17 L266.1 308.6 L266.6 307.12 L267.1 305.69 L267.6 304.24 L268.1 302.8 L268.6 301.43 L269.1 300.2 L269.6 299.11 L270.1 298.1 L270.6 297.17 L271.1 296.3 L271.6 295.49 L272.1 294.73 L272.6 294.01 L273.1 293.3 L273.6 292.58 L274.1 291.87 L274.6 291.2 L275.1 290.6 L275.6 290.07 L276.1 289.57 L276.6 289.11 L277.1 288.67 L277.6 288.24 L278.1 287.8 L278.6 287.36 L279.1 286.94 L279.6 286.52 L280.1 286.1 L280.6 285.68 L281.1 285.27 L281.6 284.86 L282.1 284.45 L282.6 284.04 L283.1 283.63 L283.6 283.22 L284.1 282.82 L284.6 282.41 L285.1 282.01 L285.6 281.6 L286.1 281.2 L286.6 280.8 L287.1 280.39 L287.6 279.99 L288.1 279.58 L288.6 279.18 L289.1 278.78 L289.6 278.37 L290.1 277.97 L290.6 277.57 L291.1 277.18 L291.6 276.78 L292.1 276.38 L292.6 275.99 L293.1 275.6 L293.6 275.21 L294.1 274.83 L294.6 274.45 L295.1 274.07 L295.6 273.69 L296.1 273.32 L296.6 272.95 L297.1 272.58 L297.6 272.21 L298.1 271.83 L298.6 271.46 L299.1 271.09 L299.6 270.72 L300.1 270.34 L300.6 269.96 L301.1 269.58 L301.6 269.2 L302.1 268.81 L302.6 268.42 L303.1 268.02 L303.6 267.62 L304.1 267.21 L304.6 266.8 L305.1 266.39 L305.6 265.98 L306.1 265.56 L306.6 265.14 L307.1 264.72 L307.6 264.29 L308.1 263.87 L308.6 263.44 L309.1 263.01 L309.6 262.58 L310.1 262.16 L310.6 261.73 L311.1 261.3 L311.6 260.87 L312.1 260.45 L312.6 260.02 L313.1 259.6 L313.6 259.18 L314.1 258.75 L314.6 258.33 L315.1 257.9 L315.6 257.47 L316.1 257.05 L316.6 256.62 L317.1 256.19 L317.6 255.76 L318.1 255.33 L318.6 254.9 L319.1 254.48 L319.6 254.05 L320.1 253.62 L320.6 253.2 L321.1 252.78 L321.6 252.36 L322.1 251.94 L322.6 251.53 L323.1 251.12 L323.6 250.71 L324.1 250.3 L324.6 249.9 L325.1 249.49 L325.6 249.09 L326.1 248.69 L326.6 248.29 L327.1 247.9 L327.6 247.5 L328.1 247.11 L328.6 246.72 L329.1 246.32 L329.6 245.93 L330.1 245.55 L330.6 245.16 L331.1 244.77 L331.6 244.39 L332.1 244.01 L332.6 243.63 L333.1 243.25 L333.6 242.87 L334.1 242.49 L334.6 242.12 L335.1 241.74 L335.6 241.37 L336.1 241 L336.6 240.63 L337.1 240.26 L337.6 239.9 L338.1 239.54 L338.6 239.17 L339.1 238.81 L339.6 238.45 L340.1 238.1 L340.6 237.74 L341.1 237.39 L341.6 237.03 L342.1 236.68 L342.6 236.33 L343.1 235.98 L343.6 235.63 L344.1 235.28 L344.6 234.93 L345.1 234.58 L345.6 234.23 L346.1 233.89 L346.6 233.54 L347.1 233.19 L347.6 232.84 L348.1 232.5 L348.6 232.15 L349.1 231.8 L349.6 231.45 L350.1 231.1 L350.6 230.75 L351.1 230.4 L351.6 230.05 L352.1 229.7 L352.6 229.35 L353.1 229 L353.6 228.65 L354.1 228.3 L354.6 227.95 L355.1 227.6 L355.6 227.25 L356.1 226.91 L356.6 226.56 L357.1 226.22 L357.6 225.88 L358.1 225.54 L358.6 225.21 L359.1 224.87 L359.6 224.54 L360.1 224.21 L360.6 223.89 L361.1 223.56 L361.6 223.24 L362.1 222.93 L362.6 222.61 L363.1 222.29 L363.6 221.98 L364.1 221.67 L364.6 221.36 L365.1 221.05 L365.6 220.74 L366.1 220.43 L366.6 220.13 L367.1 219.83 L367.6 219.52 L368.1 219.22 L368.6 218.92 L369.1 218.63 L369.6 218.33 L370.1 218.03 L370.6 217.74 L371.1 217.45 L371.6 217.16 L372.1 216.87 L372.6 216.58 L373.1 216.29 L373.6 216.01 L374.1 215.72 L374.6 215.44 L375.1 215.16 L375.6 214.88 L376.1 214.6 L376.6 214.32 L377.1 214.05 L377.6 213.77 L378.1 213.5 L378.6 213.23 L379.1 212.95 L379.6 212.68 L380.1 212.42 L380.6 212.15 L381.1 211.88 L381.6 211.62 L382.1 211.35 L382.6 211.09 L383.1 210.83 L383.6 210.57 L384.1 210.31 L384.6 210.05 L385.1 209.79 L385.6 209.54 L386.1 209.28 L386.6 209.03 L387.1 208.78 L387.6 208.53 L388.1 208.28 L388.6 208.03 L389.1 207.78 L389.6 207.53 L390.1 207.29 L390.6 207.04 L391.1 206.8 L391.6 206.56 L392.1 206.32 L392.6 206.08 L393.1 205.84 L393.6 205.61 L394.1 205.37 L394.6 205.14 L395.1 204.9 L395.6 204.67 L396.1 204.44 L396.6 204.21 L397.1 203.99 L397.6 203.76 L398.1 203.53 L398.6 203.31 L399.1 203.08 L399.6 202.86 L400.1 202.63 L400.6 202.41 L401.1 202.19 L401.6 201.97 L402.1 201.74 L402.6 201.52 L403.1 201.3 L403.6 201.08 L404.1 200.86 L404.6 200.64 L405.1 200.42 L405.6 200.2 L406.1 199.98 L406.6 199.76 L407.1 199.53 L407.6 199.31 L408.1 199.09 L408.6 198.87 L409.1 198.65 L409.6 198.43 L410.1 198.22 L410.6 198 L411.1 197.78 L411.6 197.56 L412.1 197.34 L412.6 197.13 L413.1 196.91 L413.6 196.7 L414.1 196.48 L414.6 196.27 L415.1 196.06 L415.6 195.84 L416.1 195.63 L416.6 195.42 L417.1 195.21 L417.6 195.01 L418.1 194.8 L418.6 194.59 L419.1 194.39 L419.6 194.19 L420.1 193.99 L420.6 193.79 L421.1 193.59 L421.6 193.4" fill="none" stroke="#ff0000" stroke-width="1.9" stroke-linejoin="round"/>
<path d="M101.6 215.31 L102.1 215.55 L102.6 215.79 L103.1 216.02 L103.6 216.26 L104.1 216.5 L104.6 216.74 L105.1 216.97 L105.6 217.21 L106.1 217.44 L106.6 217.67 L107.1 217.9 L107.6 218.14 L108.1 218.37 L108.6 218.6 L109.1 218.82 L109.6 219.05 L110.1 219.28 L110.6 219.51 L111.1 219.74 L111.6 219.97 L112.1 220.2 L112.6 220.43 L113.1 220.67 L113.6 220.9 L114.1 221.13 L114.6 221.37 L115.1 221.61 L115.6 221.84 L116.1 222.08 L116.6 222.33 L117.1 222.57 L117.6 222.81 L118.1 223.06 L118.6 223.31 L119.1 223.56 L119.6 223.82 L120.1 224.08 L120.6 224.34 L121.1 224.6 L121.6 224.87 L122.1 225.14 L122.6 225.41 L123.1 225.69 L123.6 225.96 L124.1 226.25 L124.6 226.53 L125.1 226.82 L125.6 227.11 L126.1 227.4 L126.6 227.69 L127.1 227.99 L127.6 228.28 L128.1 228.58 L128.6 228.88 L129.1 229.18 L129.6 229.49 L130.1 229.79 L130.6 230.1 L131.1 230.41 L131.6 230.71 L132.1 231.02 L132.6 231.33 L133.1 231.64 L133.6 231.95 L134.1 232.26 L134.6 232.57 L135.1 232.88 L135.6 233.19 L136.1 233.5 L136.6 233.81 L137.1 234.12 L137.6 234.43 L138.1 234.75 L138.6 235.06 L139.1 235.38 L139.6 235.69 L140.1 236.01 L140.6 236.33 L141.1 236.65 L141.6 236.96 L142.1 237.29 L142.6 237.61 L143.1 237.93 L143.6 238.25 L144.1 238.57 L144.6 238.9 L145.1 239.22 L145.6 239.55 L146.1 239.88 L146.6 240.2 L147.1 240.53 L147.6 240.86 L148.1 241.19 L148.6 241.52 L149.1 241.85 L149.6 242.18 L150.1 242.51 L150.6 242.84 L151.1 243.17 L151.6 243.5 L152.1 243.83 L152.6 244.16 L153.1 244.5 L153.6 244.83 L154.1 245.16 L154.6 245.5 L155.1 245.83 L155.6 246.17 L156.1 246.5 L156.6 246.83 L157.1 247.17 L157.6 247.51 L158.1 247.84 L158.6 248.18 L159.1 248.52 L159.6 248.86 L160.1 249.2 L160.6 249.54 L161.1 249.89 L161.6 250.23 L162.1 250.57 L162.6 250.91 L163.1 251.26 L163.6 251.6 L164.1 251.95 L164.6 252.29 L165.1 252.64 L165.6 252.98 L166.1 253.33 L166.6 253.68 L167.1 254.02 L167.6 254.37 L168.1 254.72 L168.6 255.06 L169.1 255.41 L169.6 255.76 L170.1 256.11 L170.6 256.45 L171.1 256.8 L171.6 257.15 L172.1 257.49 L172.6 257.84 L173.1 258.19 L173.6 258.54 L174.1 258.88 L174.6 259.23 L175.1 259.58 L175.6 259.93 L176.1 260.28 L176.6 260.63 L177.1 260.98 L177.6 261.33 L178.1 261.68 L178.6 262.03 L179.1 262.39 L179.6 262.74 L180.1 263.09 L180.6 263.45 L181.1 263.8 L181.6 264.16 L182.1 264.51 L182.6 264.87 L183.1 265.24 L183.6 265.6 L184.1 265.96 L184.6 266.33 L185.1 266.69 L185.6 267.06 L186.1 267.42 L186.6 267.79 L187.1 268.15 L187.6 268.52 L188.1 268.88 L188.6 269.25 L189.1 269.61 L189.6 269.97 L190.1 270.32 L190.6 270.68 L191.1 271.03 L191.6 271.38 L192.1 271.73 L192.6 272.08 L193.1 272.42 L193.6 272.75 L194.1 273.09 L194.6 273.42 L195.1 273.75 L195.6 274.08 L196.1 274.41 L196.6 274.74 L197.1 275.07 L197.6 275.4 L198.1 275.73 L198.6 276.06 L199.1 276.39 L199.6 276.73 L200.1 277.07 L200.6 277.41 L201.1 277.76 L201.6 278.12 L202.1 278.47 L202.6 278.83 L203.1 279.19 L203.6 279.56 L204.1 279.92 L204.6 280.28 L205.1 280.63 L205.6 280.98 L206.1 281.33 L206.6 281.67 L207.1 282 L207.6 282.32 L208.1 282.64 L208.6 282.94 L209.1 283.23 L209.6 283.52 L210.1 283.8 L210.6 284.08 L211.1 284.35 L211.6 284.61 L212.1 284.87 L212.6 285.13 L213.1 285.38 L213.6 285.64 L214.1 285.88 L214.6 286.13 L215.1 286.37 L215.6 286.62 L216.1 286.86 L216.6 287.1 L217.1 287.34 L217.6 287.58 L218.1 287.82 L218.6 288.06 L219.1 288.3 L219.6 288.54 L220.1 288.78 L220.6 289.02 L221.1 289.25 L221.6 289.49 L222.1 289.73 L222.6 289.96 L223.1 290.19 L223.6 290.42 L224.1 290.65 L224.6 290.88 L225.1 291.1 L225.6 291.33 L226.1 291.55 L226.6 291.77 L227.1 291.99 L227.6 292.2 L228.1 292.41 L228.6 292.62 L229.1 292.83 L229.6 293.04 L230.1 293.25 L230.6 293.45 L231.1 293.65 L231.6 293.85 L232.1 294.05 L232.6 294.24 L233.1 294.43 L233.6 294.62 L234.1 294.8 L234.6 294.98 L235.1 295.14 L235.6 295.3 L236.1 295.46 L236.6 295.61 L237.1 295.76 L237.6 295.91 L238.1 296.07 L238.6 296.22 L239.1 296.38 L239.6 296.55 L240.1 296.73 L240.6 296.92 L241.1 297.12 L241.6 297.34 L242.1 297.56 L242.6 297.8 L243.1 298.05 L243.6 298.31 L244.1 298.58 L244.6 298.86 L245.1 299.15 L245.6 299.46 L246.1 299.78 L246.6 300.13 L247.1 300.49 L247.6 300.88 L248.1 301.3 L248.6 301.75 L249.1 302.23 L249.6 302.75 L250.1 303.3 L250.6 303.9 L251.1 304.55 L251.6 305.26 L252.1 306 L252.6 306.8 L253.1 307.66 L253.6 308.57 L254.1 309.5 L254.6 310.44 L255.1 311.41 L255.6 312.43 L256.1 313.5 L256.6 314.67 L257.1 315.93 L257.6 317.22 L258.1 318.5 L258.6 319.77 L259.1 321.04 L259.6 322.3 L260.1 323.54 L260.6 324.78 L261.1 326 L261.6 324.78 L262.1 323.54 L262.6 322.3 L263.1 321.04 L263.6 319.77 L264.1 318.5 L264.6 317.22 L265.1 315.93 L265.6 314.67 L266.1 313.5 L266.6 312.43 L267.1 311.41 L267.6 310.44 L268.1 309.5 L268.6 308.57 L269.1 307.66 L269.6 306.8 L270.1 306 L270.6 305.26 L271.1 304.55 L271.6 303.9 L272.1 303.3 L272.6 302.75 L273.1 302.23 L273.6 301.75 L274.1 301.3 L274.6 300.88 L275.1 300.49 L275.6 300.13 L276.1 299.78 L276.6 299.46 L277.1 299.15 L277.6 298.86 L278.1 298.58 L278.6 298.31 L279.1 298.05 L279.6 297.8 L280.1 297.56 L280.6 297.34 L281.1 297.12 L281.6 296.92 L282.1 296.73 L282.6 296.55 L283.1 296.38 L283.6 296.22 L284.1 296.07 L284.6 295.91 L285.1 295.76 L285.6 295.61 L286.1 295.46 L286.6 295.3 L287.1 295.14 L287.6 294.98 L288.1 294.8 L288.6 294.62 L289.1 294.43 L289.6 294.24 L290.1 294.05 L290.6 293.85 L291.1 293.65 L291.6 293.45 L292.1 293.25 L292.6 293.04 L293.1 292.83 L293.6 292.62 L294.1 292.41 L294.6 292.2 L295.1 291.99 L295.6 291.77 L296.1 291.55 L296.6 291.33 L297.1 291.1 L297.6 290.88 L298.1 290.65 L298.6 290.42 L299.1 290.19 L299.6 289.96 L300.1 289.73 L300.6 289.49 L301.1 289.25 L301.6 289.02 L302.1 288.78 L302.6 288.54 L303.1 288.3 L303.6 288.06 L304.1 287.82 L304.6 287.58 L305.1 287.34 L305.6 287.1 L306.1 286.86 L306.6 286.62 L307.1 286.37 L307.6 286.13 L308.1 285.88 L308.6 285.64 L309.1 285.38 L309.6 285.13 L310.1 284.87 L310.6 284.61 L311.1 284.35 L311.6 284.08 L312.1 283.8 L312.6 283.52 L313.1 283.23 L313.6 282.94 L314.1 282.64 L314.6 282.32 L315.1 282 L315.6 281.67 L316.1 281.33 L316.6 280.98 L317.1 280.63 L317.6 280.28 L318.1 279.92 L318.6 279.56 L319.1 279.19 L319.6 278.83 L320.1 278.47 L320.6 278.12 L321.1 277.76 L321.6 277.41 L322.1 277.07 L322.6 276.73 L323.1 276.39 L323.6 276.06 L324.1 275.73 L324.6 275.4 L325.1 275.07 L325.6 274.74 L326.1 274.41 L326.6 274.08 L327.1 273.75 L327.6 273.42 L328.1 273.09 L328.6 272.75 L329.1 272.42 L329.6 272.08 L330.1 271.73 L330.6 271.38 L331.1 271.03 L331.6 270.68 L332.1 270.32 L332.6 269.97 L333.1 269.61 L333.6 269.25 L334.1 268.88 L334.6 268.52 L335.1 268.15 L335.6 267.79 L336.1 267.42 L336.6 267.06 L337.1 266.69 L337.6 266.33 L338.1 265.96 L338.6 265.6 L339.1 265.24 L339.6 264.87 L340.1 264.51 L340.6 264.16 L341.1 263.8 L341.6 263.45 L342.1 263.09 L342.6 262.74 L343.1 262.39 L343.6 262.03 L344.1 261.68 L344.6 261.33 L345.1 260.98 L345.6 260.63 L346.1 260.28 L346.6 259.93 L347.1 259.58 L347.6 259.23 L348.1 258.88 L348.6 258.54 L349.1 258.19 L349.6 257.84 L350.1 257.49 L350.6 257.15 L351.1 256.8 L351.6 256.45 L352.1 256.11 L352.6 255.76 L353.1 255.41 L353.6 255.06 L354.1 254.72 L354.6 254.37 L355.1 254.02 L355.6 253.68 L356.1 253.33 L356.6 252.98 L357.1 252.64 L357.6 252.29 L358.1 251.95 L358.6 251.6 L359.1 251.26 L359.6 250.91 L360.1 250.57 L360.6 250.23 L361.1 249.89 L361.6 249.54 L362.1 249.2 L362.6 248.86 L363.1 248.52 L363.6 248.18 L364.1 247.84 L364.6 247.51 L365.1 247.17 L365.6 246.83 L366.1 246.5 L366.6 246.17 L367.1 245.83 L367.6 245.5 L368.1 245.16 L368.6 244.83 L369.1 244.5 L369.6 244.16 L370.1 243.83 L370.6 243.5 L371.1 243.17 L371.6 242.84 L372.1 242.51 L372.6 242.18 L373.1 241.85 L373.6 241.52 L374.1 241.19 L374.6 240.86 L375.1 240.53 L375.6 240.2 L376.1 239.88 L376.6 239.55 L377.1 239.22 L377.6 238.9 L378.1 238.57 L378.6 238.25 L379.1 237.93 L379.6 237.61 L380.1 237.29 L380.6 236.96 L381.1 236.65 L381.6 236.33 L382.1 236.01 L382.6 235.69 L383.1 235.38 L383.6 235.06 L384.1 234.75 L384.6 234.43 L385.1 234.12 L385.6 233.81 L386.1 233.5 L386.6 233.19 L387.1 232.88 L387.6 232.57 L388.1 232.26 L388.6 231.95 L389.1 231.64 L389.6 231.33 L390.1 231.02 L390.6 230.71 L391.1 230.41 L391.6 230.1 L392.1 229.79 L392.6 229.49 L393.1 229.18 L393.6 228.88 L394.1 228.58 L394.6 228.28 L395.1 227.99 L395.6 227.69 L396.1 227.4 L396.6 227.11 L397.1 226.82 L397.6 226.53 L398.1 226.25 L398.6 225.96 L399.1 225.69 L399.6 225.41 L400.1 225.14 L400.6 224.87 L401.1 224.6 L401.6 224.34 L402.1 224.08 L402.6 223.82 L403.1 223.56 L403.6 223.31 L404.1 223.06 L404.6 222.81 L405.1 222.57 L405.6 222.33 L406.1 222.08 L406.6 221.84 L407.1 221.61 L407.6 221.37 L408.1 221.13 L408.6 220.9 L409.1 220.67 L409.6 220.43 L410.1 220.2 L410.6 219.97 L411.1 219.74 L411.6 219.51 L412.1 219.28 L412.6 219.05 L413.1 218.82 L413.6 218.6 L414.1 218.37 L414.6 218.14 L415.1 217.9 L415.6 217.67 L416.1 217.44 L416.6 217.21 L417.1 216.97 L417.6 216.74 L418.1 216.5 L418.6 216.26 L419.1 216.02 L419.6 215.79 L420.1 215.55 L420.6 215.31 L421.1 215.07 L421.6 214.84" fill="none" stroke="#800000" stroke-width="1.7" stroke-dasharray="1.5 1.5" stroke-linejoin="round"/>
</g>
<g clip-path="url(#cr)">
<line x1="608.5" y1="65.8" x2="608.5" y2="353.3" stroke="#000" stroke-width="1.15"/>
<g fill="#bebebe"><circle cx="601.4" cy="318.94" r="4.4"/><circle cx="597.05" cy="302.97" r="4.4"/><circle cx="592.7" cy="286.87" r="4.4"/><circle cx="588.35" cy="272.27" r="4.4"/><circle cx="584" cy="258.37" r="4.4"/><circle cx="579.65" cy="244.97" r="4.4"/><circle cx="575.3" cy="231.47" r="4.4"/><circle cx="570.95" cy="219.64" r="4.4"/><circle cx="566.6" cy="208.06" r="4.4"/><circle cx="562.25" cy="196.69" r="4.4"/><circle cx="557.9" cy="185.75" r="4.4"/><circle cx="553.55" cy="175.57" r="4.4"/><circle cx="549.2" cy="166.24" r="4.4"/><circle cx="544.85" cy="157.65" r="4.4"/><circle cx="540.5" cy="148.39" r="4.4"/><circle cx="536.15" cy="140.25" r="4.4"/><circle cx="531.8" cy="132.9" r="4.4"/><circle cx="527.45" cy="125.36" r="4.4"/><circle cx="523.1" cy="118.53" r="4.4"/><circle cx="518.75" cy="111.85" r="4.4"/><circle cx="514.4" cy="106.04" r="4.4"/><circle cx="510.05" cy="100.22" r="4.4"/><circle cx="505.7" cy="94.26" r="4.4"/><circle cx="501.35" cy="88.53" r="4.4"/><circle cx="497" cy="83.47" r="4.4"/><circle cx="492.65" cy="78.68" r="4.4"/><circle cx="488.3" cy="74.18" r="4.4"/><circle cx="483.95" cy="69.59" r="4.4"/><circle cx="479.6" cy="64.46" r="4.4"/></g>
<g fill="#bebebe"><circle cx="615.6" cy="314.45" r="4.4"/><circle cx="620.5" cy="297.32" r="4.4"/><circle cx="625.4" cy="280.29" r="4.4"/><circle cx="630.3" cy="263.59" r="4.4"/><circle cx="635.2" cy="248.41" r="4.4"/><circle cx="640.1" cy="233.84" r="4.4"/><circle cx="645" cy="219.72" r="4.4"/><circle cx="649.9" cy="206.81" r="4.4"/><circle cx="654.8" cy="193.62" r="4.4"/><circle cx="659.7" cy="182.09" r="4.4"/><circle cx="664.6" cy="171" r="4.4"/><circle cx="669.5" cy="160.41" r="4.4"/><circle cx="674.4" cy="151.29" r="4.4"/><circle cx="679.3" cy="141.27" r="4.4"/><circle cx="684.2" cy="133.18" r="4.4"/><circle cx="686.5" cy="128.74" r="4.4"/><circle cx="688.8" cy="125.22" r="4.4"/><circle cx="691.1" cy="121.59" r="4.4"/><circle cx="693.4" cy="117.79" r="4.4"/><circle cx="695.7" cy="114.6" r="4.4"/><circle cx="698" cy="111.21" r="4.4"/><circle cx="700.3" cy="107.69" r="4.4"/><circle cx="702.6" cy="104.83" r="4.4"/><circle cx="704.9" cy="101.15" r="4.4"/><circle cx="707.2" cy="98.1" r="4.4"/><circle cx="709.5" cy="95.23" r="4.4"/><circle cx="711.8" cy="92.31" r="4.4"/><circle cx="714.1" cy="89.28" r="4.4"/><circle cx="716.4" cy="87.11" r="4.4"/><circle cx="718.7" cy="84.28" r="4.4"/><circle cx="721" cy="80.94" r="4.4"/><circle cx="723.3" cy="78.54" r="4.4"/><circle cx="725.6" cy="75.84" r="4.4"/><circle cx="727.9" cy="73.52" r="4.4"/><circle cx="730.2" cy="70.89" r="4.4"/><circle cx="732.5" cy="68.68" r="4.4"/><circle cx="734.8" cy="66.69" r="4.4"/><circle cx="737.1" cy="63.88" r="4.4"/><circle cx="739.4" cy="61.85" r="4.4"/><circle cx="741.7" cy="59.55" r="4.4"/><circle cx="744" cy="57.47" r="4.4"/></g>
<circle cx="608" cy="340" r="4.4" fill="#bebebe"/>
<circle cx="610.5" cy="338" r="4.4" fill="#bebebe"/>
<circle cx="605.5" cy="338" r="4.4" fill="#bebebe"/>
<path d="M448.5 -81.06 L449 -80.19 L449.5 -79.3 L450 -78.42 L450.5 -77.54 L451 -76.65 L451.5 -75.77 L452 -74.88 L452.5 -73.99 L453 -73.1 L453.5 -72.21 L454 -71.31 L454.5 -70.42 L455 -69.52 L455.5 -68.62 L456 -67.72 L456.5 -66.82 L457 -65.92 L457.5 -65.02 L458 -64.11 L458.5 -63.2 L459 -62.3 L459.5 -61.39 L460 -60.47 L460.5 -59.56 L461 -58.65 L461.5 -57.73 L462 -56.81 L462.5 -55.89 L463 -54.97 L463.5 -54.05 L464 -53.13 L464.5 -52.2 L465 -51.27 L465.5 -50.34 L466 -49.41 L466.5 -48.48 L467 -47.55 L467.5 -46.61 L468 -45.67 L468.5 -44.74 L469 -43.79 L469.5 -42.85 L470 -41.91 L470.5 -40.96 L471 -40.02 L471.5 -39.07 L472 -38.12 L472.5 -37.16 L473 -36.21 L473.5 -35.25 L474 -34.29 L474.5 -33.34 L475 -32.37 L475.5 -31.41 L476 -30.45 L476.5 -29.48 L477 -28.51 L477.5 -27.54 L478 -26.57 L478.5 -25.59 L479 -24.62 L479.5 -23.64 L480 -22.66 L480.5 -21.68 L481 -20.69 L481.5 -19.71 L482 -18.72 L482.5 -17.73 L483 -16.74 L483.5 -15.74 L484 -14.75 L484.5 -13.75 L485 -12.75 L485.5 -11.75 L486 -10.74 L486.5 -9.74 L487 -8.73 L487.5 -7.72 L488 -6.71 L488.5 -5.69 L489 -4.68 L489.5 -3.66 L490 -2.64 L490.5 -1.62 L491 -0.59 L491.5 0.44 L492 1.47 L492.5 2.5 L493 3.53 L493.5 4.57 L494 5.61 L494.5 6.65 L495 7.69 L495.5 8.73 L496 9.78 L496.5 10.83 L497 11.88 L497.5 12.94 L498 14 L498.5 15.05 L499 16.12 L499.5 17.18 L500 18.25 L500.5 19.32 L501 20.39 L501.5 21.46 L502 22.54 L502.5 23.62 L503 24.7 L503.5 25.79 L504 26.87 L504.5 27.96 L505 29.05 L505.5 30.15 L506 31.24 L506.5 32.34 L507 33.45 L507.5 34.55 L508 35.66 L508.5 36.77 L509 37.89 L509.5 39 L510 40.13 L510.5 41.25 L511 42.38 L511.5 43.51 L512 44.65 L512.5 45.79 L513 46.94 L513.5 48.09 L514 49.24 L514.5 50.4 L515 51.56 L515.5 52.73 L516 53.9 L516.5 55.08 L517 56.27 L517.5 57.45 L518 58.65 L518.5 59.85 L519 61.06 L519.5 62.27 L520 63.49 L520.5 64.72 L521 65.95 L521.5 67.19 L522 68.43 L522.5 69.69 L523 70.95 L523.5 72.21 L524 73.49 L524.5 74.77 L525 76.06 L525.5 77.36 L526 78.67 L526.5 79.99 L527 81.31 L527.5 82.65 L528 83.99 L528.5 85.34 L529 86.7 L529.5 88.08 L530 89.46 L530.5 90.85 L531 92.25 L531.5 93.66 L532 95.08 L532.5 96.5 L533 97.94 L533.5 99.38 L534 100.84 L534.5 102.3 L535 103.77 L535.5 105.24 L536 106.73 L536.5 108.22 L537 109.72 L537.5 111.23 L538 112.74 L538.5 114.27 L539 115.8 L539.5 117.33 L540 118.87 L540.5 120.42 L541 121.98 L541.5 123.54 L542 125.1 L542.5 126.67 L543 128.25 L543.5 129.83 L544 131.42 L544.5 133.01 L545 134.61 L545.5 136.21 L546 137.81 L546.5 139.42 L547 141.03 L547.5 142.65 L548 144.27 L548.5 145.89 L549 147.51 L549.5 149.13 L550 150.76 L550.5 152.39 L551 154.02 L551.5 155.65 L552 157.28 L552.5 158.9 L553 160.53 L553.5 162.15 L554 163.77 L554.5 165.39 L555 167 L555.5 168.61 L556 170.21 L556.5 171.8 L557 173.39 L557.5 174.97 L558 176.54 L558.5 178.11 L559 179.66 L559.5 181.21 L560 182.74 L560.5 184.27 L561 185.79 L561.5 187.3 L562 188.8 L562.5 190.29 L563 191.78 L563.5 193.26 L564 194.73 L564.5 196.19 L565 197.65 L565.5 199.09 L566 200.54 L566.5 201.97 L567 203.41 L567.5 204.83 L568 206.25 L568.5 207.67 L569 209.08 L569.5 210.48 L570 211.89 L570.5 213.29 L571 214.68 L571.5 216.08 L572 217.47 L572.5 218.86 L573 220.24 L573.5 221.63 L574 223.02 L574.5 224.41 L575 225.8 L575.5 227.19 L576 228.58 L576.5 229.97 L577 231.37 L577.5 232.78 L578 234.18 L578.5 235.6 L579 237.02 L579.5 238.44 L580 239.88 L580.5 241.33 L581 242.78 L581.5 244.25 L582 245.73 L582.5 247.22 L583 248.73 L583.5 250.25 L584 251.79 L584.5 253.35 L585 254.93 L585.5 256.54 L586 258.16 L586.5 259.82 L587 261.5 L587.5 263.2 L588 264.94 L588.5 266.71 L589 268.51 L589.5 270.35 L590 272.22 L590.5 274.13 L591 276.08 L591.5 278.08 L592 280.11 L592.5 282.2 L593 284.33 L593.5 286.52 L594 288.76 L594.5 291.06 L595 293.4 L595.5 295.78 L596 298.2 L596.5 300.65 L597 303.13 L597.5 305.62 L598 308.12 L598.5 310.62 L599 313.1 L599.5 315.55 L600 317.96 L600.5 320.3 L601 322.56 L601.5 324.72 L602 326.78 L602.5 328.74 L603 330.58 L603.5 332.31 L604 333.91 L604.5 335.38 L605 336.7 L605.5 337.85 L606 338.81 L606.5 339.55 L607 340.01 L607.5 340.05 L608 338.6 L608.5 340.05 L609 340.01 L609.5 339.55 L610 338.81 L610.5 337.85 L611 336.7 L611.5 335.38 L612 333.91 L612.5 332.31 L613 330.58 L613.5 328.74 L614 326.78 L614.5 324.72 L615 322.56 L615.5 320.3 L616 317.96 L616.5 315.55 L617 313.1 L617.5 310.62 L618 308.12 L618.5 305.62 L619 303.13 L619.5 300.65 L620 298.2 L620.5 295.78 L621 293.4 L621.5 291.06 L622 288.76 L622.5 286.52 L623 284.33 L623.5 282.2 L624 280.11 L624.5 278.08 L625 276.08 L625.5 274.13 L626 272.22 L626.5 270.35 L627 268.51 L627.5 266.71 L628 264.94 L628.5 263.2 L629 261.5 L629.5 259.82 L630 258.16 L630.5 256.54 L631 254.93 L631.5 253.35 L632 251.79 L632.5 250.25 L633 248.73 L633.5 247.22 L634 245.73 L634.5 244.25 L635 242.78 L635.5 241.33 L636 239.88 L636.5 238.44 L637 237.02 L637.5 235.6 L638 234.18 L638.5 232.78 L639 231.37 L639.5 229.97 L640 228.58 L640.5 227.19 L641 225.8 L641.5 224.41 L642 223.02 L642.5 221.63 L643 220.24 L643.5 218.86 L644 217.47 L644.5 216.08 L645 214.68 L645.5 213.29 L646 211.89 L646.5 210.48 L647 209.08 L647.5 207.67 L648 206.25 L648.5 204.83 L649 203.41 L649.5 201.97 L650 200.54 L650.5 199.09 L651 197.65 L651.5 196.19 L652 194.73 L652.5 193.26 L653 191.78 L653.5 190.29 L654 188.8 L654.5 187.3 L655 185.79 L655.5 184.27 L656 182.74 L656.5 181.21 L657 179.66 L657.5 178.11 L658 176.54 L658.5 174.97 L659 173.39 L659.5 171.8 L660 170.21 L660.5 168.61 L661 167 L661.5 165.39 L662 163.77 L662.5 162.15 L663 160.53 L663.5 158.9 L664 157.28 L664.5 155.65 L665 154.02 L665.5 152.39 L666 150.76 L666.5 149.13 L667 147.51 L667.5 145.89 L668 144.27 L668.5 142.65 L669 141.03 L669.5 139.42 L670 137.81 L670.5 136.21 L671 134.61 L671.5 133.01 L672 131.42 L672.5 129.83 L673 128.25 L673.5 126.67 L674 125.1 L674.5 123.54 L675 121.98 L675.5 120.42 L676 118.87 L676.5 117.33 L677 115.8 L677.5 114.27 L678 112.74 L678.5 111.23 L679 109.72 L679.5 108.22 L680 106.73 L680.5 105.24 L681 103.77 L681.5 102.3 L682 100.84 L682.5 99.38 L683 97.94 L683.5 96.5 L684 95.08 L684.5 93.66 L685 92.25 L685.5 90.85 L686 89.46 L686.5 88.08 L687 86.7 L687.5 85.34 L688 83.99 L688.5 82.65 L689 81.31 L689.5 79.99 L690 78.67 L690.5 77.36 L691 76.06 L691.5 74.77 L692 73.49 L692.5 72.21 L693 70.95 L693.5 69.69 L694 68.43 L694.5 67.19 L695 65.95 L695.5 64.72 L696 63.49 L696.5 62.27 L697 61.06 L697.5 59.85 L698 58.65 L698.5 57.45 L699 56.27 L699.5 55.08 L700 53.9 L700.5 52.73 L701 51.56 L701.5 50.4 L702 49.24 L702.5 48.09 L703 46.94 L703.5 45.79 L704 44.65 L704.5 43.51 L705 42.38 L705.5 41.25 L706 40.13 L706.5 39 L707 37.89 L707.5 36.77 L708 35.66 L708.5 34.55 L709 33.45 L709.5 32.34 L710 31.24 L710.5 30.15 L711 29.05 L711.5 27.96 L712 26.87 L712.5 25.79 L713 24.7 L713.5 23.62 L714 22.54 L714.5 21.46 L715 20.39 L715.5 19.32 L716 18.25 L716.5 17.18 L717 16.12 L717.5 15.05 L718 14 L718.5 12.94 L719 11.88 L719.5 10.83 L720 9.78 L720.5 8.73 L721 7.69 L721.5 6.65 L722 5.61 L722.5 4.57 L723 3.53 L723.5 2.5 L724 1.47 L724.5 0.44 L725 -0.59 L725.5 -1.62 L726 -2.64 L726.5 -3.66 L727 -4.68 L727.5 -5.69 L728 -6.71 L728.5 -7.72 L729 -8.73 L729.5 -9.74 L730 -10.74 L730.5 -11.75 L731 -12.75 L731.5 -13.75 L732 -14.75 L732.5 -15.74 L733 -16.74 L733.5 -17.73 L734 -18.72 L734.5 -19.71 L735 -20.69 L735.5 -21.68 L736 -22.66 L736.5 -23.64 L737 -24.62 L737.5 -25.59 L738 -26.57 L738.5 -27.54 L739 -28.51 L739.5 -29.48 L740 -30.45 L740.5 -31.41 L741 -32.37 L741.5 -33.34 L742 -34.29 L742.5 -35.25 L743 -36.21 L743.5 -37.16 L744 -38.12 L744.5 -39.07 L745 -40.02 L745.5 -40.96 L746 -41.91 L746.5 -42.85 L747 -43.79 L747.5 -44.74 L748 -45.67 L748.5 -46.61 L749 -47.55 L749.5 -48.48 L750 -49.41 L750.5 -50.34 L751 -51.27 L751.5 -52.2 L752 -53.13 L752.5 -54.05 L753 -54.97 L753.5 -55.89 L754 -56.81 L754.5 -57.73 L755 -58.65 L755.5 -59.56 L756 -60.47 L756.5 -61.39 L757 -62.3 L757.5 -63.2 L758 -64.11 L758.5 -65.02 L759 -65.92 L759.5 -66.82 L760 -67.72 L760.5 -68.62 L761 -69.52 L761.5 -70.42 L762 -71.31 L762.5 -72.21 L763 -73.1 L763.5 -73.99 L764 -74.88 L764.5 -75.77 L765 -76.65 L765.5 -77.54 L766 -78.42 L766.5 -79.3 L767 -80.19 L767.5 -81.06 L768 -81.94 L768.5 -82.82" fill="none" stroke="#0000ff" stroke-width="2" stroke-dasharray="3.6 3" stroke-linejoin="round"/>
<path d="M448.5 0.23 L449 0.88 L449.5 1.53 L450 2.17 L450.5 2.82 L451 3.48 L451.5 4.13 L452 4.78 L452.5 5.43 L453 6.09 L453.5 6.75 L454 7.4 L454.5 8.06 L455 8.72 L455.5 9.38 L456 10.04 L456.5 10.71 L457 11.37 L457.5 12.03 L458 12.7 L458.5 13.37 L459 14.04 L459.5 14.7 L460 15.38 L460.5 16.05 L461 16.72 L461.5 17.39 L462 18.07 L462.5 18.74 L463 19.42 L463.5 20.1 L464 20.78 L464.5 21.46 L465 22.14 L465.5 22.83 L466 23.51 L466.5 24.2 L467 24.88 L467.5 25.57 L468 26.26 L468.5 26.95 L469 27.65 L469.5 28.34 L470 29.04 L470.5 29.74 L471 30.45 L471.5 31.16 L472 31.87 L472.5 32.58 L473 33.3 L473.5 34.01 L474 34.74 L474.5 35.46 L475 36.19 L475.5 36.92 L476 37.65 L476.5 38.38 L477 39.12 L477.5 39.86 L478 40.6 L478.5 41.35 L479 42.1 L479.5 42.85 L480 43.6 L480.5 44.36 L481 45.12 L481.5 45.88 L482 46.64 L482.5 47.41 L483 48.18 L483.5 48.95 L484 49.73 L484.5 50.5 L485 51.28 L485.5 52.07 L486 52.85 L486.5 53.64 L487 54.43 L487.5 55.23 L488 56.02 L488.5 56.82 L489 57.62 L489.5 58.43 L490 59.23 L490.5 60.04 L491 60.85 L491.5 61.67 L492 62.49 L492.5 63.31 L493 64.13 L493.5 64.95 L494 65.78 L494.5 66.61 L495 67.44 L495.5 68.28 L496 69.12 L496.5 69.96 L497 70.8 L497.5 71.64 L498 72.49 L498.5 73.34 L499 74.2 L499.5 75.05 L500 75.91 L500.5 76.77 L501 77.63 L501.5 78.5 L502 79.37 L502.5 80.24 L503 81.11 L503.5 81.99 L504 82.86 L504.5 83.74 L505 84.63 L505.5 85.51 L506 86.4 L506.5 87.29 L507 88.18 L507.5 89.08 L508 89.98 L508.5 90.88 L509 91.78 L509.5 92.68 L510 93.59 L510.5 94.5 L511 95.41 L511.5 96.33 L512 97.24 L512.5 98.16 L513 99.08 L513.5 100 L514 100.93 L514.5 101.86 L515 102.79 L515.5 103.72 L516 104.66 L516.5 105.59 L517 106.53 L517.5 107.47 L518 108.42 L518.5 109.36 L519 110.31 L519.5 111.26 L520 112.21 L520.5 113.17 L521 114.12 L521.5 115.08 L522 116.04 L522.5 117.01 L523 117.97 L523.5 118.94 L524 119.91 L524.5 120.88 L525 121.85 L525.5 122.82 L526 123.8 L526.5 124.78 L527 125.76 L527.5 126.74 L528 127.73 L528.5 128.71 L529 129.7 L529.5 130.69 L530 131.68 L530.5 132.68 L531 133.67 L531.5 134.67 L532 135.67 L532.5 136.67 L533 137.67 L533.5 138.68 L534 139.68 L534.5 140.69 L535 141.7 L535.5 142.71 L536 143.72 L536.5 144.73 L537 145.75 L537.5 146.76 L538 147.78 L538.5 148.8 L539 149.82 L539.5 150.84 L540 151.86 L540.5 152.89 L541 153.91 L541.5 154.94 L542 155.97 L542.5 157 L543 158.03 L543.5 159.06 L544 160.09 L544.5 161.12 L545 162.15 L545.5 163.19 L546 164.22 L546.5 165.26 L547 166.3 L547.5 167.34 L548 168.38 L548.5 169.42 L549 170.46 L549.5 171.5 L550 172.55 L550.5 173.59 L551 174.64 L551.5 175.69 L552 176.75 L552.5 177.8 L553 178.86 L553.5 179.91 L554 180.97 L554.5 182.04 L555 183.1 L555.5 184.17 L556 185.24 L556.5 186.32 L557 187.39 L557.5 188.47 L558 189.56 L558.5 190.64 L559 191.73 L559.5 192.83 L560 193.92 L560.5 195.02 L561 196.13 L561.5 197.24 L562 198.35 L562.5 199.47 L563 200.6 L563.5 201.72 L564 202.86 L564.5 204 L565 205.14 L565.5 206.29 L566 207.45 L566.5 208.61 L567 209.78 L567.5 210.95 L568 212.13 L568.5 213.32 L569 214.52 L569.5 215.72 L570 216.93 L570.5 218.15 L571 219.38 L571.5 220.62 L572 221.87 L572.5 223.12 L573 224.39 L573.5 225.66 L574 226.95 L574.5 228.24 L575 229.55 L575.5 230.87 L576 232.2 L576.5 233.55 L577 234.9 L577.5 236.27 L578 237.66 L578.5 239.06 L579 240.47 L579.5 241.9 L580 243.35 L580.5 244.81 L581 246.29 L581.5 247.79 L582 249.3 L582.5 250.83 L583 252.38 L583.5 253.95 L584 255.53 L584.5 257.13 L585 258.75 L585.5 260.38 L586 262.04 L586.5 263.71 L587 265.4 L587.5 267.1 L588 268.82 L588.5 270.56 L589 272.32 L589.5 274.1 L590 275.89 L590.5 277.7 L591 279.53 L591.5 281.38 L592 283.24 L592.5 285.12 L593 287.02 L593.5 288.93 L594 290.86 L594.5 292.81 L595 294.78 L595.5 296.76 L596 298.75 L596.5 300.76 L597 302.79 L597.5 304.83 L598 306.88 L598.5 308.95 L599 311.03 L599.5 313.12 L600 315.22 L600.5 317.32 L601 319.44 L601.5 321.55 L602 323.66 L602.5 325.77 L603 327.87 L603.5 329.96 L604 332.02 L604.5 334.04 L605 336 L605.5 337.89 L606 339.65 L606.5 341.22 L607 342.45 L607.5 342.97 L608 338.6 L608.5 342.97 L609 342.45 L609.5 341.22 L610 339.65 L610.5 337.89 L611 336 L611.5 334.04 L612 332.02 L612.5 329.96 L613 327.87 L613.5 325.77 L614 323.66 L614.5 321.55 L615 319.44 L615.5 317.32 L616 315.22 L616.5 313.12 L617 311.03 L617.5 308.95 L618 306.88 L618.5 304.83 L619 302.79 L619.5 300.76 L620 298.75 L620.5 296.76 L621 294.78 L621.5 292.81 L622 290.86 L622.5 288.93 L623 287.02 L623.5 285.12 L624 283.24 L624.5 281.38 L625 279.53 L625.5 277.7 L626 275.89 L626.5 274.1 L627 272.32 L627.5 270.56 L628 268.82 L628.5 267.1 L629 265.4 L629.5 263.71 L630 262.04 L630.5 260.38 L631 258.75 L631.5 257.13 L632 255.53 L632.5 253.95 L633 252.38 L633.5 250.83 L634 249.3 L634.5 247.79 L635 246.29 L635.5 244.81 L636 243.35 L636.5 241.9 L637 240.47 L637.5 239.06 L638 237.66 L638.5 236.27 L639 234.9 L639.5 233.55 L640 232.2 L640.5 230.87 L641 229.55 L641.5 228.24 L642 226.95 L642.5 225.66 L643 224.39 L643.5 223.12 L644 221.87 L644.5 220.62 L645 219.38 L645.5 218.15 L646 216.93 L646.5 215.72 L647 214.52 L647.5 213.32 L648 212.13 L648.5 210.95 L649 209.78 L649.5 208.61 L650 207.45 L650.5 206.29 L651 205.14 L651.5 204 L652 202.86 L652.5 201.72 L653 200.6 L653.5 199.47 L654 198.35 L654.5 197.24 L655 196.13 L655.5 195.02 L656 193.92 L656.5 192.83 L657 191.73 L657.5 190.64 L658 189.56 L658.5 188.47 L659 187.39 L659.5 186.32 L660 185.24 L660.5 184.17 L661 183.1 L661.5 182.04 L662 180.97 L662.5 179.91 L663 178.86 L663.5 177.8 L664 176.75 L664.5 175.69 L665 174.64 L665.5 173.59 L666 172.55 L666.5 171.5 L667 170.46 L667.5 169.42 L668 168.38 L668.5 167.34 L669 166.3 L669.5 165.26 L670 164.22 L670.5 163.19 L671 162.15 L671.5 161.12 L672 160.09 L672.5 159.06 L673 158.03 L673.5 157 L674 155.97 L674.5 154.94 L675 153.91 L675.5 152.89 L676 151.86 L676.5 150.84 L677 149.82 L677.5 148.8 L678 147.78 L678.5 146.76 L679 145.75 L679.5 144.73 L680 143.72 L680.5 142.71 L681 141.7 L681.5 140.69 L682 139.68 L682.5 138.68 L683 137.67 L683.5 136.67 L684 135.67 L684.5 134.67 L685 133.67 L685.5 132.68 L686 131.68 L686.5 130.69 L687 129.7 L687.5 128.71 L688 127.73 L688.5 126.74 L689 125.76 L689.5 124.78 L690 123.8 L690.5 122.82 L691 121.85 L691.5 120.88 L692 119.91 L692.5 118.94 L693 117.97 L693.5 117.01 L694 116.04 L694.5 115.08 L695 114.12 L695.5 113.17 L696 112.21 L696.5 111.26 L697 110.31 L697.5 109.36 L698 108.42 L698.5 107.47 L699 106.53 L699.5 105.59 L700 104.66 L700.5 103.72 L701 102.79 L701.5 101.86 L702 100.93 L702.5 100 L703 99.08 L703.5 98.16 L704 97.24 L704.5 96.33 L705 95.41 L705.5 94.5 L706 93.59 L706.5 92.68 L707 91.78 L707.5 90.88 L708 89.98 L708.5 89.08 L709 88.18 L709.5 87.29 L710 86.4 L710.5 85.51 L711 84.63 L711.5 83.74 L712 82.86 L712.5 81.99 L713 81.11 L713.5 80.24 L714 79.37 L714.5 78.5 L715 77.63 L715.5 76.77 L716 75.91 L716.5 75.05 L717 74.2 L717.5 73.34 L718 72.49 L718.5 71.64 L719 70.8 L719.5 69.96 L720 69.12 L720.5 68.28 L721 67.44 L721.5 66.61 L722 65.78 L722.5 64.95 L723 64.13 L723.5 63.31 L724 62.49 L724.5 61.67 L725 60.85 L725.5 60.04 L726 59.23 L726.5 58.43 L727 57.62 L727.5 56.82 L728 56.02 L728.5 55.23 L729 54.43 L729.5 53.64 L730 52.85 L730.5 52.07 L731 51.28 L731.5 50.5 L732 49.73 L732.5 48.95 L733 48.18 L733.5 47.41 L734 46.64 L734.5 45.88 L735 45.12 L735.5 44.36 L736 43.6 L736.5 42.85 L737 42.1 L737.5 41.35 L738 40.6 L738.5 39.86 L739 39.12 L739.5 38.38 L740 37.65 L740.5 36.92 L741 36.19 L741.5 35.46 L742 34.74 L742.5 34.01 L743 33.3 L743.5 32.58 L744 31.87 L744.5 31.16 L745 30.45 L745.5 29.74 L746 29.04 L746.5 28.34 L747 27.65 L747.5 26.95 L748 26.26 L748.5 25.57 L749 24.88 L749.5 24.2 L750 23.51 L750.5 22.83 L751 22.14 L751.5 21.46 L752 20.78 L752.5 20.1 L753 19.42 L753.5 18.74 L754 18.07 L754.5 17.39 L755 16.72 L755.5 16.05 L756 15.38 L756.5 14.7 L757 14.04 L757.5 13.37 L758 12.7 L758.5 12.03 L759 11.37 L759.5 10.71 L760 10.04 L760.5 9.38 L761 8.72 L761.5 8.06 L762 7.4 L762.5 6.75 L763 6.09 L763.5 5.43 L764 4.78 L764.5 4.13 L765 3.48 L765.5 2.82 L766 2.17 L766.5 1.53 L767 0.88 L767.5 0.23 L768 -0.42 L768.5 -1.06" fill="none" stroke="#008000" stroke-width="2" stroke-dasharray="8 6" stroke-linejoin="round"/>
<path d="M448.5 70.22 L449 70.78 L449.5 71.33 L450 71.89 L450.5 72.45 L451 73.01 L451.5 73.57 L452 74.12 L452.5 74.68 L453 75.24 L453.5 75.8 L454 76.35 L454.5 76.91 L455 77.47 L455.5 78.02 L456 78.58 L456.5 79.13 L457 79.69 L457.5 80.25 L458 80.8 L458.5 81.36 L459 81.91 L459.5 82.47 L460 83.02 L460.5 83.57 L461 84.13 L461.5 84.68 L462 85.24 L462.5 85.79 L463 86.34 L463.5 86.9 L464 87.45 L464.5 88.01 L465 88.56 L465.5 89.11 L466 89.67 L466.5 90.22 L467 90.77 L467.5 91.32 L468 91.88 L468.5 92.43 L469 92.98 L469.5 93.54 L470 94.09 L470.5 94.64 L471 95.19 L471.5 95.75 L472 96.3 L472.5 96.85 L473 97.41 L473.5 97.96 L474 98.51 L474.5 99.06 L475 99.62 L475.5 100.17 L476 100.72 L476.5 101.28 L477 101.83 L477.5 102.38 L478 102.94 L478.5 103.49 L479 104.04 L479.5 104.6 L480 105.15 L480.5 105.7 L481 106.26 L481.5 106.81 L482 107.37 L482.5 107.92 L483 108.48 L483.5 109.03 L484 109.59 L484.5 110.14 L485 110.7 L485.5 111.25 L486 111.81 L486.5 112.36 L487 112.92 L487.5 113.48 L488 114.04 L488.5 114.59 L489 115.15 L489.5 115.71 L490 116.27 L490.5 116.82 L491 117.38 L491.5 117.94 L492 118.5 L492.5 119.06 L493 119.62 L493.5 120.18 L494 120.74 L494.5 121.31 L495 121.87 L495.5 122.43 L496 122.99 L496.5 123.56 L497 124.12 L497.5 124.68 L498 125.25 L498.5 125.81 L499 126.38 L499.5 126.95 L500 127.51 L500.5 128.08 L501 128.65 L501.5 129.22 L502 129.79 L502.5 130.36 L503 130.93 L503.5 131.5 L504 132.07 L504.5 132.64 L505 133.22 L505.5 133.79 L506 134.37 L506.5 134.94 L507 135.52 L507.5 136.1 L508 136.67 L508.5 137.25 L509 137.83 L509.5 138.41 L510 139 L510.5 139.58 L511 140.16 L511.5 140.75 L512 141.33 L512.5 141.92 L513 142.5 L513.5 143.09 L514 143.68 L514.5 144.27 L515 144.86 L515.5 145.45 L516 146.05 L516.5 146.64 L517 147.24 L517.5 147.84 L518 148.43 L518.5 149.03 L519 149.63 L519.5 150.24 L520 150.84 L520.5 151.44 L521 152.05 L521.5 152.66 L522 153.27 L522.5 153.88 L523 154.49 L523.5 155.1 L524 155.72 L524.5 156.33 L525 156.95 L525.5 157.57 L526 158.19 L526.5 158.81 L527 159.44 L527.5 160.06 L528 160.69 L528.5 161.32 L529 161.95 L529.5 162.59 L530 163.22 L530.5 163.86 L531 164.5 L531.5 165.14 L532 165.78 L532.5 166.43 L533 167.08 L533.5 167.73 L534 168.38 L534.5 169.03 L535 169.69 L535.5 170.35 L536 171.01 L536.5 171.67 L537 172.34 L537.5 173 L538 173.67 L538.5 174.35 L539 175.02 L539.5 175.7 L540 176.38 L540.5 177.07 L541 177.76 L541.5 178.45 L542 179.14 L542.5 179.84 L543 180.54 L543.5 181.24 L544 181.95 L544.5 182.66 L545 183.37 L545.5 184.09 L546 184.81 L546.5 185.53 L547 186.26 L547.5 186.99 L548 187.73 L548.5 188.47 L549 189.21 L549.5 189.96 L550 190.72 L550.5 191.47 L551 192.24 L551.5 193 L552 193.78 L552.5 194.55 L553 195.34 L553.5 196.12 L554 196.92 L554.5 197.71 L555 198.52 L555.5 199.33 L556 200.14 L556.5 200.96 L557 201.79 L557.5 202.62 L558 203.46 L558.5 204.31 L559 205.16 L559.5 206.02 L560 206.89 L560.5 207.76 L561 208.64 L561.5 209.53 L562 210.43 L562.5 211.33 L563 212.25 L563.5 213.17 L564 214.1 L564.5 215.04 L565 215.98 L565.5 216.94 L566 217.9 L566.5 218.88 L567 219.86 L567.5 220.86 L568 221.86 L568.5 222.88 L569 223.91 L569.5 224.95 L570 226 L570.5 227.06 L571 228.13 L571.5 229.22 L572 230.32 L572.5 231.43 L573 232.56 L573.5 233.7 L574 234.85 L574.5 236.02 L575 237.2 L575.5 238.4 L576 239.61 L576.5 240.84 L577 242.08 L577.5 243.34 L578 244.61 L578.5 245.9 L579 247.21 L579.5 248.52 L580 249.86 L580.5 251.21 L581 252.57 L581.5 253.95 L582 255.35 L582.5 256.76 L583 258.18 L583.5 259.63 L584 261.08 L584.5 262.56 L585 264.05 L585.5 265.55 L586 267.07 L586.5 268.61 L587 270.16 L587.5 271.73 L588 273.32 L588.5 274.92 L589 276.54 L589.5 278.17 L590 279.82 L590.5 281.48 L591 283.17 L591.5 284.86 L592 286.58 L592.5 288.31 L593 290.05 L593.5 291.81 L594 293.59 L594.5 295.38 L595 297.19 L595.5 299.01 L596 300.85 L596.5 302.7 L597 304.56 L597.5 306.44 L598 308.34 L598.5 310.24 L599 312.16 L599.5 314.08 L600 316.02 L600.5 317.96 L601 319.91 L601.5 321.87 L602 323.83 L602.5 325.78 L603 327.73 L603.5 329.66 L604 331.58 L604.5 333.47 L605 335.31 L605.5 337.09 L606 338.76 L606.5 340.28 L607 341.51 L607.5 342.14 L608 338.6 L608.5 342.14 L609 341.51 L609.5 340.28 L610 338.76 L610.5 337.09 L611 335.31 L611.5 333.47 L612 331.58 L612.5 329.66 L613 327.73 L613.5 325.78 L614 323.83 L614.5 321.87 L615 319.91 L615.5 317.96 L616 316.02 L616.5 314.08 L617 312.16 L617.5 310.24 L618 308.34 L618.5 306.44 L619 304.56 L619.5 302.7 L620 300.85 L620.5 299.01 L621 297.19 L621.5 295.38 L622 293.59 L622.5 291.81 L623 290.05 L623.5 288.31 L624 286.58 L624.5 284.86 L625 283.17 L625.5 281.48 L626 279.82 L626.5 278.17 L627 276.54 L627.5 274.92 L628 273.32 L628.5 271.73 L629 270.16 L629.5 268.61 L630 267.07 L630.5 265.55 L631 264.05 L631.5 262.56 L632 261.08 L632.5 259.63 L633 258.18 L633.5 256.76 L634 255.35 L634.5 253.95 L635 252.57 L635.5 251.21 L636 249.86 L636.5 248.52 L637 247.21 L637.5 245.9 L638 244.61 L638.5 243.34 L639 242.08 L639.5 240.84 L640 239.61 L640.5 238.4 L641 237.2 L641.5 236.02 L642 234.85 L642.5 233.7 L643 232.56 L643.5 231.43 L644 230.32 L644.5 229.22 L645 228.13 L645.5 227.06 L646 226 L646.5 224.95 L647 223.91 L647.5 222.88 L648 221.86 L648.5 220.86 L649 219.86 L649.5 218.88 L650 217.9 L650.5 216.94 L651 215.98 L651.5 215.04 L652 214.1 L652.5 213.17 L653 212.25 L653.5 211.33 L654 210.43 L654.5 209.53 L655 208.64 L655.5 207.76 L656 206.89 L656.5 206.02 L657 205.16 L657.5 204.31 L658 203.46 L658.5 202.62 L659 201.79 L659.5 200.96 L660 200.14 L660.5 199.33 L661 198.52 L661.5 197.71 L662 196.92 L662.5 196.12 L663 195.34 L663.5 194.55 L664 193.78 L664.5 193 L665 192.24 L665.5 191.47 L666 190.72 L666.5 189.96 L667 189.21 L667.5 188.47 L668 187.73 L668.5 186.99 L669 186.26 L669.5 185.53 L670 184.81 L670.5 184.09 L671 183.37 L671.5 182.66 L672 181.95 L672.5 181.24 L673 180.54 L673.5 179.84 L674 179.14 L674.5 178.45 L675 177.76 L675.5 177.07 L676 176.38 L676.5 175.7 L677 175.02 L677.5 174.35 L678 173.67 L678.5 173 L679 172.34 L679.5 171.67 L680 171.01 L680.5 170.35 L681 169.69 L681.5 169.03 L682 168.38 L682.5 167.73 L683 167.08 L683.5 166.43 L684 165.78 L684.5 165.14 L685 164.5 L685.5 163.86 L686 163.22 L686.5 162.59 L687 161.95 L687.5 161.32 L688 160.69 L688.5 160.06 L689 159.44 L689.5 158.81 L690 158.19 L690.5 157.57 L691 156.95 L691.5 156.33 L692 155.72 L692.5 155.1 L693 154.49 L693.5 153.88 L694 153.27 L694.5 152.66 L695 152.05 L695.5 151.44 L696 150.84 L696.5 150.24 L697 149.63 L697.5 149.03 L698 148.43 L698.5 147.84 L699 147.24 L699.5 146.64 L700 146.05 L700.5 145.45 L701 144.86 L701.5 144.27 L702 143.68 L702.5 143.09 L703 142.5 L703.5 141.92 L704 141.33 L704.5 140.75 L705 140.16 L705.5 139.58 L706 139 L706.5 138.41 L707 137.83 L707.5 137.25 L708 136.67 L708.5 136.1 L709 135.52 L709.5 134.94 L710 134.37 L710.5 133.79 L711 133.22 L711.5 132.64 L712 132.07 L712.5 131.5 L713 130.93 L713.5 130.36 L714 129.79 L714.5 129.22 L715 128.65 L715.5 128.08 L716 127.51 L716.5 126.95 L717 126.38 L717.5 125.81 L718 125.25 L718.5 124.68 L719 124.12 L719.5 123.56 L720 122.99 L720.5 122.43 L721 121.87 L721.5 121.31 L722 120.74 L722.5 120.18 L723 119.62 L723.5 119.06 L724 118.5 L724.5 117.94 L725 117.38 L725.5 116.82 L726 116.27 L726.5 115.71 L727 115.15 L727.5 114.59 L728 114.04 L728.5 113.48 L729 112.92 L729.5 112.36 L730 111.81 L730.5 111.25 L731 110.7 L731.5 110.14 L732 109.59 L732.5 109.03 L733 108.48 L733.5 107.92 L734 107.37 L734.5 106.81 L735 106.26 L735.5 105.7 L736 105.15 L736.5 104.6 L737 104.04 L737.5 103.49 L738 102.94 L738.5 102.38 L739 101.83 L739.5 101.28 L740 100.72 L740.5 100.17 L741 99.62 L741.5 99.06 L742 98.51 L742.5 97.96 L743 97.41 L743.5 96.85 L744 96.3 L744.5 95.75 L745 95.19 L745.5 94.64 L746 94.09 L746.5 93.54 L747 92.98 L747.5 92.43 L748 91.88 L748.5 91.32 L749 90.77 L749.5 90.22 L750 89.67 L750.5 89.11 L751 88.56 L751.5 88.01 L752 87.45 L752.5 86.9 L753 86.34 L753.5 85.79 L754 85.24 L754.5 84.68 L755 84.13 L755.5 83.57 L756 83.02 L756.5 82.47 L757 81.91 L757.5 81.36 L758 80.8 L758.5 80.25 L759 79.69 L759.5 79.13 L760 78.58 L760.5 78.02 L761 77.47 L761.5 76.91 L762 76.35 L762.5 75.8 L763 75.24 L763.5 74.68 L764 74.12 L764.5 73.57 L765 73.01 L765.5 72.45 L766 71.89 L766.5 71.33 L767 70.78 L767.5 70.22 L768 69.66 L768.5 69.1" fill="none" stroke="#ff8000" stroke-width="2" stroke-dasharray="7.8 3.9 1.9 3.9" stroke-linejoin="round"/>
<path d="M448.5 150.1 L449 150.4 L449.5 150.7 L450 151 L450.5 151.31 L451 151.61 L451.5 151.92 L452 152.22 L452.5 152.53 L453 152.83 L453.5 153.14 L454 153.45 L454.5 153.76 L455 154.06 L455.5 154.37 L456 154.68 L456.5 154.99 L457 155.3 L457.5 155.61 L458 155.92 L458.5 156.23 L459 156.53 L459.5 156.84 L460 157.15 L460.5 157.46 L461 157.77 L461.5 158.08 L462 158.39 L462.5 158.69 L463 159 L463.5 159.31 L464 159.61 L464.5 159.92 L465 160.23 L465.5 160.54 L466 160.84 L466.5 161.15 L467 161.46 L467.5 161.77 L468 162.07 L468.5 162.38 L469 162.69 L469.5 162.99 L470 163.3 L470.5 163.61 L471 163.92 L471.5 164.22 L472 164.53 L472.5 164.84 L473 165.14 L473.5 165.45 L474 165.76 L474.5 166.06 L475 166.37 L475.5 166.67 L476 166.98 L476.5 167.28 L477 167.59 L477.5 167.9 L478 168.2 L478.5 168.5 L479 168.81 L479.5 169.11 L480 169.42 L480.5 169.72 L481 170.02 L481.5 170.33 L482 170.63 L482.5 170.93 L483 171.24 L483.5 171.54 L484 171.84 L484.5 172.14 L485 172.45 L485.5 172.75 L486 173.05 L486.5 173.35 L487 173.65 L487.5 173.96 L488 174.26 L488.5 174.56 L489 174.86 L489.5 175.16 L490 175.47 L490.5 175.77 L491 176.07 L491.5 176.37 L492 176.67 L492.5 176.97 L493 177.28 L493.5 177.58 L494 177.88 L494.5 178.18 L495 178.49 L495.5 178.79 L496 179.09 L496.5 179.39 L497 179.7 L497.5 180 L498 180.3 L498.5 180.6 L499 180.91 L499.5 181.21 L500 181.51 L500.5 181.8 L501 182.1 L501.5 182.4 L502 182.7 L502.5 183 L503 183.29 L503.5 183.59 L504 183.89 L504.5 184.19 L505 184.48 L505.5 184.78 L506 185.08 L506.5 185.38 L507 185.68 L507.5 185.98 L508 186.28 L508.5 186.58 L509 186.88 L509.5 187.19 L510 187.49 L510.5 187.8 L511 188.11 L511.5 188.41 L512 188.72 L512.5 189.03 L513 189.35 L513.5 189.66 L514 189.98 L514.5 190.29 L515 190.61 L515.5 190.94 L516 191.26 L516.5 191.58 L517 191.9 L517.5 192.22 L518 192.54 L518.5 192.86 L519 193.18 L519.5 193.5 L520 193.82 L520.5 194.15 L521 194.47 L521.5 194.79 L522 195.12 L522.5 195.44 L523 195.77 L523.5 196.1 L524 196.43 L524.5 196.77 L525 197.1 L525.5 197.44 L526 197.78 L526.5 198.13 L527 198.48 L527.5 198.83 L528 199.18 L528.5 199.54 L529 199.9 L529.5 200.27 L530 200.64 L530.5 201.01 L531 201.39 L531.5 201.77 L532 202.16 L532.5 202.56 L533 202.96 L533.5 203.36 L534 203.77 L534.5 204.19 L535 204.61 L535.5 205.04 L536 205.47 L536.5 205.91 L537 206.36 L537.5 206.81 L538 207.27 L538.5 207.73 L539 208.2 L539.5 208.67 L540 209.15 L540.5 209.63 L541 210.12 L541.5 210.62 L542 211.12 L542.5 211.63 L543 212.14 L543.5 212.66 L544 213.18 L544.5 213.71 L545 214.24 L545.5 214.78 L546 215.33 L546.5 215.88 L547 216.44 L547.5 217 L548 217.57 L548.5 218.15 L549 218.74 L549.5 219.35 L550 219.96 L550.5 220.58 L551 221.21 L551.5 221.85 L552 222.5 L552.5 223.16 L553 223.83 L553.5 224.5 L554 225.19 L554.5 225.88 L555 226.58 L555.5 227.28 L556 227.99 L556.5 228.71 L557 229.44 L557.5 230.17 L558 230.9 L558.5 231.65 L559 232.4 L559.5 233.17 L560 233.94 L560.5 234.73 L561 235.52 L561.5 236.33 L562 237.15 L562.5 237.97 L563 238.8 L563.5 239.65 L564 240.5 L564.5 241.35 L565 242.22 L565.5 243.09 L566 243.97 L566.5 244.85 L567 245.75 L567.5 246.64 L568 247.55 L568.5 248.45 L569 249.37 L569.5 250.29 L570 251.21 L570.5 252.15 L571 253.1 L571.5 254.05 L572 255.01 L572.5 255.99 L573 256.97 L573.5 257.96 L574 258.96 L574.5 259.97 L575 261 L575.5 262.03 L576 263.07 L576.5 264.13 L577 265.19 L577.5 266.27 L578 267.35 L578.5 268.46 L579 269.58 L579.5 270.71 L580 271.86 L580.5 273.02 L581 274.2 L581.5 275.38 L582 276.58 L582.5 277.79 L583 279.01 L583.5 280.23 L584 281.47 L584.5 282.71 L585 283.96 L585.5 285.22 L586 286.48 L586.5 287.75 L587 289.02 L587.5 290.33 L588 291.66 L588.5 293.01 L589 294.37 L589.5 295.74 L590 297.13 L590.5 298.52 L591 299.9 L591.5 301.29 L592 302.66 L592.5 304.03 L593 305.38 L593.5 306.71 L594 308.02 L594.5 309.3 L595 310.54 L595.5 311.73 L596 312.91 L596.5 314.08 L597 315.28 L597.5 316.52 L598 317.83 L598.5 319.23 L599 320.69 L599.5 322.18 L600 323.67 L600.5 325.12 L601 326.5 L601.5 327.85 L602 329.2 L602.5 330.52 L603 331.78 L603.5 332.95 L604 334 L604.5 334.98 L605 335.91 L605.5 336.71 L606 337.3 L606.5 337.75 L607 338.15 L607.5 338.44 L608 338.6 L608.5 338.44 L609 338.15 L609.5 337.75 L610 337.3 L610.5 336.71 L611 335.91 L611.5 334.98 L612 334 L612.5 332.95 L613 331.78 L613.5 330.52 L614 329.2 L614.5 327.85 L615 326.5 L615.5 325.12 L616 323.67 L616.5 322.18 L617 320.69 L617.5 319.23 L618 317.83 L618.5 316.52 L619 315.28 L619.5 314.08 L620 312.91 L620.5 311.73 L621 310.54 L621.5 309.3 L622 308.02 L622.5 306.71 L623 305.38 L623.5 304.03 L624 302.66 L624.5 301.29 L625 299.9 L625.5 298.52 L626 297.13 L626.5 295.74 L627 294.37 L627.5 293.01 L628 291.66 L628.5 290.33 L629 289.02 L629.5 287.75 L630 286.48 L630.5 285.22 L631 283.96 L631.5 282.71 L632 281.47 L632.5 280.23 L633 279.01 L633.5 277.79 L634 276.58 L634.5 275.38 L635 274.2 L635.5 273.02 L636 271.86 L636.5 270.71 L637 269.58 L637.5 268.46 L638 267.35 L638.5 266.27 L639 265.19 L639.5 264.13 L640 263.07 L640.5 262.03 L641 261 L641.5 259.97 L642 258.96 L642.5 257.96 L643 256.97 L643.5 255.99 L644 255.01 L644.5 254.05 L645 253.1 L645.5 252.15 L646 251.21 L646.5 250.29 L647 249.37 L647.5 248.45 L648 247.55 L648.5 246.64 L649 245.75 L649.5 244.85 L650 243.97 L650.5 243.09 L651 242.22 L651.5 241.35 L652 240.5 L652.5 239.65 L653 238.8 L653.5 237.97 L654 237.15 L654.5 236.33 L655 235.52 L655.5 234.73 L656 233.94 L656.5 233.17 L657 232.4 L657.5 231.65 L658 230.9 L658.5 230.17 L659 229.44 L659.5 228.71 L660 227.99 L660.5 227.28 L661 226.58 L661.5 225.88 L662 225.19 L662.5 224.5 L663 223.83 L663.5 223.16 L664 222.5 L664.5 221.85 L665 221.21 L665.5 220.58 L666 219.96 L666.5 219.35 L667 218.74 L667.5 218.15 L668 217.57 L668.5 217 L669 216.44 L669.5 215.88 L670 215.33 L670.5 214.78 L671 214.24 L671.5 213.71 L672 213.18 L672.5 212.66 L673 212.14 L673.5 211.63 L674 211.12 L674.5 210.62 L675 210.12 L675.5 209.63 L676 209.15 L676.5 208.67 L677 208.2 L677.5 207.73 L678 207.27 L678.5 206.81 L679 206.36 L679.5 205.91 L680 205.47 L680.5 205.04 L681 204.61 L681.5 204.19 L682 203.77 L682.5 203.36 L683 202.96 L683.5 202.56 L684 202.16 L684.5 201.77 L685 201.39 L685.5 201.01 L686 200.64 L686.5 200.27 L687 199.9 L687.5 199.54 L688 199.18 L688.5 198.83 L689 198.48 L689.5 198.13 L690 197.78 L690.5 197.44 L691 197.1 L691.5 196.77 L692 196.43 L692.5 196.1 L693 195.77 L693.5 195.44 L694 195.12 L694.5 194.79 L695 194.47 L695.5 194.15 L696 193.82 L696.5 193.5 L697 193.18 L697.5 192.86 L698 192.54 L698.5 192.22 L699 191.9 L699.5 191.58 L700 191.26 L700.5 190.94 L701 190.61 L701.5 190.29 L702 189.98 L702.5 189.66 L703 189.35 L703.5 189.03 L704 188.72 L704.5 188.41 L705 188.11 L705.5 187.8 L706 187.49 L706.5 187.19 L707 186.88 L707.5 186.58 L708 186.28 L708.5 185.98 L709 185.68 L709.5 185.38 L710 185.08 L710.5 184.78 L711 184.48 L711.5 184.19 L712 183.89 L712.5 183.59 L713 183.29 L713.5 183 L714 182.7 L714.5 182.4 L715 182.1 L715.5 181.8 L716 181.51 L716.5 181.21 L717 180.91 L717.5 180.6 L718 180.3 L718.5 180 L719 179.7 L719.5 179.39 L720 179.09 L720.5 178.79 L721 178.49 L721.5 178.18 L722 177.88 L722.5 177.58 L723 177.28 L723.5 176.97 L724 176.67 L724.5 176.37 L725 176.07 L725.5 175.77 L726 175.47 L726.5 175.16 L727 174.86 L727.5 174.56 L728 174.26 L728.5 173.96 L729 173.65 L729.5 173.35 L730 173.05 L730.5 172.75 L731 172.45 L731.5 172.14 L732 171.84 L732.5 171.54 L733 171.24 L733.5 170.93 L734 170.63 L734.5 170.33 L735 170.02 L735.5 169.72 L736 169.42 L736.5 169.11 L737 168.81 L737.5 168.5 L738 168.2 L738.5 167.9 L739 167.59 L739.5 167.28 L740 166.98 L740.5 166.67 L741 166.37 L741.5 166.06 L742 165.76 L742.5 165.45 L743 165.14 L743.5 164.84 L744 164.53 L744.5 164.22 L745 163.92 L745.5 163.61 L746 163.3 L746.5 162.99 L747 162.69 L747.5 162.38 L748 162.07 L748.5 161.77 L749 161.46 L749.5 161.15 L750 160.84 L750.5 160.54 L751 160.23 L751.5 159.92 L752 159.61 L752.5 159.31 L753 159 L753.5 158.69 L754 158.39 L754.5 158.08 L755 157.77 L755.5 157.46 L756 157.15 L756.5 156.84 L757 156.53 L757.5 156.23 L758 155.92 L758.5 155.61 L759 155.3 L759.5 154.99 L760 154.68 L760.5 154.37 L761 154.06 L761.5 153.76 L762 153.45 L762.5 153.14 L763 152.83 L763.5 152.53 L764 152.22 L764.5 151.92 L765 151.61 L765.5 151.31 L766 151 L766.5 150.7 L767 150.4 L767.5 150.1 L768 149.8 L768.5 149.5" fill="none" stroke="#ff0000" stroke-width="1.9" stroke-linejoin="round"/>
<path d="M448.5 229.13 L449 229.36 L449.5 229.6 L450 229.83 L450.5 230.07 L451 230.3 L451.5 230.53 L452 230.77 L452.5 231 L453 231.23 L453.5 231.46 L454 231.69 L454.5 231.92 L455 232.15 L455.5 232.38 L456 232.61 L456.5 232.83 L457 233.06 L457.5 233.28 L458 233.5 L458.5 233.73 L459 233.95 L459.5 234.16 L460 234.38 L460.5 234.59 L461 234.81 L461.5 235.02 L462 235.23 L462.5 235.44 L463 235.64 L463.5 235.85 L464 236.05 L464.5 236.26 L465 236.47 L465.5 236.68 L466 236.89 L466.5 237.1 L467 237.31 L467.5 237.52 L468 237.72 L468.5 237.92 L469 238.12 L469.5 238.31 L470 238.5 L470.5 238.69 L471 238.87 L471.5 239.04 L472 239.21 L472.5 239.37 L473 239.52 L473.5 239.66 L474 239.8 L474.5 239.93 L475 240.05 L475.5 240.17 L476 240.28 L476.5 240.39 L477 240.5 L477.5 240.6 L478 240.7 L478.5 240.8 L479 240.89 L479.5 240.98 L480 241.08 L480.5 241.16 L481 241.25 L481.5 241.34 L482 241.43 L482.5 241.51 L483 241.6 L483.5 241.68 L484 241.76 L484.5 241.85 L485 241.92 L485.5 242 L486 242.08 L486.5 242.15 L487 242.22 L487.5 242.29 L488 242.36 L488.5 242.42 L489 242.49 L489.5 242.54 L490 242.6 L490.5 242.65 L491 242.71 L491.5 242.76 L492 242.81 L492.5 242.86 L493 242.9 L493.5 242.95 L494 243 L494.5 243.04 L495 243.09 L495.5 243.13 L496 243.17 L496.5 243.21 L497 243.25 L497.5 243.29 L498 243.33 L498.5 243.36 L499 243.4 L499.5 243.43 L500 243.47 L500.5 243.5 L501 243.54 L501.5 243.57 L502 243.6 L502.5 243.63 L503 243.66 L503.5 243.69 L504 243.72 L504.5 243.75 L505 243.77 L505.5 243.8 L506 243.83 L506.5 243.85 L507 243.88 L507.5 243.9 L508 243.93 L508.5 243.95 L509 243.98 L509.5 244 L510 244.02 L510.5 244.04 L511 244.07 L511.5 244.09 L512 244.11 L512.5 244.13 L513 244.16 L513.5 244.18 L514 244.2 L514.5 244.22 L515 244.25 L515.5 244.27 L516 244.29 L516.5 244.31 L517 244.34 L517.5 244.36 L518 244.38 L518.5 244.4 L519 244.42 L519.5 244.44 L520 244.46 L520.5 244.48 L521 244.5 L521.5 244.52 L522 244.54 L522.5 244.56 L523 244.58 L523.5 244.6 L524 244.62 L524.5 244.64 L525 244.66 L525.5 244.68 L526 244.7 L526.5 244.73 L527 244.75 L527.5 244.77 L528 244.8 L528.5 244.83 L529 244.85 L529.5 244.88 L530 244.9 L530.5 244.93 L531 244.95 L531.5 244.98 L532 245.01 L532.5 245.03 L533 245.06 L533.5 245.09 L534 245.12 L534.5 245.15 L535 245.19 L535.5 245.22 L536 245.26 L536.5 245.3 L537 245.33 L537.5 245.38 L538 245.42 L538.5 245.47 L539 245.52 L539.5 245.57 L540 245.62 L540.5 245.69 L541 245.76 L541.5 245.84 L542 245.93 L542.5 246.03 L543 246.14 L543.5 246.25 L544 246.37 L544.5 246.5 L545 246.64 L545.5 246.78 L546 246.92 L546.5 247.07 L547 247.23 L547.5 247.39 L548 247.56 L548.5 247.72 L549 247.9 L549.5 248.07 L550 248.26 L550.5 248.46 L551 248.67 L551.5 248.9 L552 249.14 L552.5 249.39 L553 249.65 L553.5 249.92 L554 250.2 L554.5 250.5 L555 250.8 L555.5 251.11 L556 251.43 L556.5 251.76 L557 252.09 L557.5 252.43 L558 252.78 L558.5 253.14 L559 253.5 L559.5 253.87 L560 254.27 L560.5 254.68 L561 255.11 L561.5 255.55 L562 256.02 L562.5 256.49 L563 256.99 L563.5 257.49 L564 258.01 L564.5 258.54 L565 259.08 L565.5 259.64 L566 260.2 L566.5 260.77 L567 261.35 L567.5 261.94 L568 262.54 L568.5 263.14 L569 263.74 L569.5 264.37 L570 265.01 L570.5 265.68 L571 266.36 L571.5 267.05 L572 267.76 L572.5 268.49 L573 269.23 L573.5 269.98 L574 270.75 L574.5 271.52 L575 272.31 L575.5 273.11 L576 273.91 L576.5 274.72 L577 275.54 L577.5 276.37 L578 277.2 L578.5 278.03 L579 278.88 L579.5 279.73 L580 280.61 L580.5 281.5 L581 282.4 L581.5 283.31 L582 284.24 L582.5 285.18 L583 286.13 L583.5 287.09 L584 288.05 L584.5 289.03 L585 290.01 L585.5 291 L586 291.99 L586.5 292.99 L587 293.99 L587.5 295 L588 296.01 L588.5 297.01 L589 298.03 L589.5 299.04 L590 300.06 L590.5 301.09 L591 302.13 L591.5 303.19 L592 304.25 L592.5 305.33 L593 306.43 L593.5 307.55 L594 308.69 L594.5 309.85 L595 311.03 L595.5 312.25 L596 313.52 L596.5 314.86 L597 316.25 L597.5 317.68 L598 319.13 L598.5 320.59 L599 322.04 L599.5 323.48 L600 324.87 L600.5 326.22 L601 327.5 L601.5 328.75 L602 330 L602.5 331.21 L603 332.37 L603.5 333.44 L604 334.4 L604.5 335.29 L605 336.13 L605.5 336.86 L606 337.4 L606.5 337.81 L607 338.18 L607.5 338.45 L608 338.6 L608.5 338.45 L609 338.18 L609.5 337.81 L610 337.4 L610.5 336.86 L611 336.13 L611.5 335.29 L612 334.4 L612.5 333.44 L613 332.37 L613.5 331.21 L614 330 L614.5 328.75 L615 327.5 L615.5 326.22 L616 324.87 L616.5 323.48 L617 322.04 L617.5 320.59 L618 319.13 L618.5 317.68 L619 316.25 L619.5 314.86 L620 313.52 L620.5 312.25 L621 311.03 L621.5 309.85 L622 308.69 L622.5 307.55 L623 306.43 L623.5 305.33 L624 304.25 L624.5 303.19 L625 302.13 L625.5 301.09 L626 300.06 L626.5 299.04 L627 298.03 L627.5 297.01 L628 296.01 L628.5 295 L629 293.99 L629.5 292.99 L630 291.99 L630.5 291 L631 290.01 L631.5 289.03 L632 288.05 L632.5 287.09 L633 286.13 L633.5 285.18 L634 284.24 L634.5 283.31 L635 282.4 L635.5 281.5 L636 280.61 L636.5 279.73 L637 278.88 L637.5 278.03 L638 277.2 L638.5 276.37 L639 275.54 L639.5 274.72 L640 273.91 L640.5 273.11 L641 272.31 L641.5 271.52 L642 270.75 L642.5 269.98 L643 269.23 L643.5 268.49 L644 267.76 L644.5 267.05 L645 266.36 L645.5 265.68 L646 265.01 L646.5 264.37 L647 263.74 L647.5 263.14 L648 262.54 L648.5 261.94 L649 261.35 L649.5 260.77 L650 260.2 L650.5 259.64 L651 259.08 L651.5 258.54 L652 258.01 L652.5 257.49 L653 256.99 L653.5 256.49 L654 256.02 L654.5 255.55 L655 255.11 L655.5 254.68 L656 254.27 L656.5 253.87 L657 253.5 L657.5 253.14 L658 252.78 L658.5 252.43 L659 252.09 L659.5 251.76 L660 251.43 L660.5 251.11 L661 250.8 L661.5 250.5 L662 250.2 L662.5 249.92 L663 249.65 L663.5 249.39 L664 249.14 L664.5 248.9 L665 248.67 L665.5 248.46 L666 248.26 L666.5 248.07 L667 247.9 L667.5 247.72 L668 247.56 L668.5 247.39 L669 247.23 L669.5 247.07 L670 246.92 L670.5 246.78 L671 246.64 L671.5 246.5 L672 246.37 L672.5 246.25 L673 246.14 L673.5 246.03 L674 245.93 L674.5 245.84 L675 245.76 L675.5 245.69 L676 245.62 L676.5 245.57 L677 245.52 L677.5 245.47 L678 245.42 L678.5 245.38 L679 245.33 L679.5 245.3 L680 245.26 L680.5 245.22 L681 245.19 L681.5 245.15 L682 245.12 L682.5 245.09 L683 245.06 L683.5 245.03 L684 245.01 L684.5 244.98 L685 244.95 L685.5 244.93 L686 244.9 L686.5 244.88 L687 244.85 L687.5 244.83 L688 244.8 L688.5 244.77 L689 244.75 L689.5 244.73 L690 244.7 L690.5 244.68 L691 244.66 L691.5 244.64 L692 244.62 L692.5 244.6 L693 244.58 L693.5 244.56 L694 244.54 L694.5 244.52 L695 244.5 L695.5 244.48 L696 244.46 L696.5 244.44 L697 244.42 L697.5 244.4 L698 244.38 L698.5 244.36 L699 244.34 L699.5 244.31 L700 244.29 L700.5 244.27 L701 244.25 L701.5 244.22 L702 244.2 L702.5 244.18 L703 244.16 L703.5 244.13 L704 244.11 L704.5 244.09 L705 244.07 L705.5 244.04 L706 244.02 L706.5 244 L707 243.98 L707.5 243.95 L708 243.93 L708.5 243.9 L709 243.88 L709.5 243.85 L710 243.83 L710.5 243.8 L711 243.77 L711.5 243.75 L712 243.72 L712.5 243.69 L713 243.66 L713.5 243.63 L714 243.6 L714.5 243.57 L715 243.54 L715.5 243.5 L716 243.47 L716.5 243.43 L717 243.4 L717.5 243.36 L718 243.33 L718.5 243.29 L719 243.25 L719.5 243.21 L720 243.17 L720.5 243.13 L721 243.09 L721.5 243.04 L722 243 L722.5 242.95 L723 242.9 L723.5 242.86 L724 242.81 L724.5 242.76 L725 242.71 L725.5 242.65 L726 242.6 L726.5 242.54 L727 242.49 L727.5 242.42 L728 242.36 L728.5 242.29 L729 242.22 L729.5 242.15 L730 242.08 L730.5 242 L731 241.92 L731.5 241.85 L732 241.76 L732.5 241.68 L733 241.6 L733.5 241.51 L734 241.43 L734.5 241.34 L735 241.25 L735.5 241.16 L736 241.08 L736.5 240.98 L737 240.89 L737.5 240.8 L738 240.7 L738.5 240.6 L739 240.5 L739.5 240.39 L740 240.28 L740.5 240.17 L741 240.05 L741.5 239.93 L742 239.8 L742.5 239.66 L743 239.52 L743.5 239.37 L744 239.21 L744.5 239.04 L745 238.87 L745.5 238.69 L746 238.5 L746.5 238.31 L747 238.12 L747.5 237.92 L748 237.72 L748.5 237.52 L749 237.31 L749.5 237.1 L750 236.89 L750.5 236.68 L751 236.47 L751.5 236.26 L752 236.05 L752.5 235.85 L753 235.64 L753.5 235.44 L754 235.23 L754.5 235.02 L755 234.81 L755.5 234.59 L756 234.38 L756.5 234.16 L757 233.95 L757.5 233.73 L758 233.5 L758.5 233.28 L759 233.06 L759.5 232.83 L760 232.61 L760.5 232.38 L761 232.15 L761.5 231.92 L762 231.69 L762.5 231.46 L763 231.23 L763.5 231 L764 230.77 L764.5 230.53 L765 230.3 L765.5 230.07 L766 229.83 L766.5 229.6 L767 229.36 L767.5 229.13 L768 228.88 L768.5 228.64" fill="none" stroke="#800000" stroke-width="1.7" stroke-dasharray="1.5 1.5" stroke-linejoin="round"/>
</g>
<g stroke="#000" stroke-width="1.4" fill="none">
<rect x="101.5" y="33" width="320.1" height="320.3"/>
<rect x="448.4" y="33" width="320.1" height="320.3"/>
<path d="M114.43 353.3 v-3.5 M114.43 33 v3.5 M127.77 353.3 v-3.5 M127.77 33 v3.5 M141.1 353.3 v-3.5 M141.1 33 v3.5 M154.43 353.3 v-3.5 M154.43 33 v3.5 M167.77 353.3 v-3.5 M167.77 33 v3.5 M181.1 353.3 v-6.8 M181.1 33 v6.8 M194.43 353.3 v-3.5 M194.43 33 v3.5 M207.77 353.3 v-3.5 M207.77 33 v3.5 M221.1 353.3 v-3.5 M221.1 33 v3.5 M234.43 353.3 v-3.5 M234.43 33 v3.5 M247.77 353.3 v-3.5 M247.77 33 v3.5 M261.1 353.3 v-6.8 M261.1 33 v6.8 M274.43 353.3 v-3.5 M274.43 33 v3.5 M287.77 353.3 v-3.5 M287.77 33 v3.5 M301.1 353.3 v-3.5 M301.1 33 v3.5 M314.43 353.3 v-3.5 M314.43 33 v3.5 M327.77 353.3 v-3.5 M327.77 33 v3.5 M341.1 353.3 v-6.8 M341.1 33 v6.8 M354.43 353.3 v-3.5 M354.43 33 v3.5 M367.77 353.3 v-3.5 M367.77 33 v3.5 M381.1 353.3 v-3.5 M381.1 33 v3.5 M394.43 353.3 v-3.5 M394.43 33 v3.5 M407.77 353.3 v-3.5 M407.77 33 v3.5 M101.5 55.25 h3.5 M421.6 55.25 h-3.5 M101.5 77.5 h3.5 M421.6 77.5 h-3.5 M101.5 99.75 h3.5 M421.6 99.75 h-3.5 M101.5 122 h6.8 M421.6 122 h-6.8 M101.5 144.25 h3.5 M421.6 144.25 h-3.5 M101.5 166.5 h3.5 M421.6 166.5 h-3.5 M101.5 188.75 h3.5 M421.6 188.75 h-3.5 M101.5 211 h6.8 M421.6 211 h-6.8 M101.5 233.25 h3.5 M421.6 233.25 h-3.5 M101.5 255.5 h3.5 M421.6 255.5 h-3.5 M101.5 277.75 h3.5 M421.6 277.75 h-3.5 M101.5 300 h6.8 M421.6 300 h-6.8 M101.5 322.25 h3.5 M421.6 322.25 h-3.5 M101.5 344.5 h3.5 M421.6 344.5 h-3.5 M459.28 353.3 v-3.5 M459.28 33 v3.5 M470.72 353.3 v-3.5 M470.72 33 v3.5 M482.16 353.3 v-3.5 M482.16 33 v3.5 M493.6 353.3 v-6.8 M493.6 33 v6.8 M505.04 353.3 v-3.5 M505.04 33 v3.5 M516.48 353.3 v-3.5 M516.48 33 v3.5 M527.92 353.3 v-3.5 M527.92 33 v3.5 M539.36 353.3 v-3.5 M539.36 33 v3.5 M550.8 353.3 v-6.8 M550.8 33 v6.8 M562.24 353.3 v-3.5 M562.24 33 v3.5 M573.68 353.3 v-3.5 M573.68 33 v3.5 M585.12 353.3 v-3.5 M585.12 33 v3.5 M596.56 353.3 v-3.5 M596.56 33 v3.5 M608 353.3 v-6.8 M608 33 v6.8 M619.44 353.3 v-3.5 M619.44 33 v3.5 M630.88 353.3 v-3.5 M630.88 33 v3.5 M642.32 353.3 v-3.5 M642.32 33 v3.5 M653.76 353.3 v-3.5 M653.76 33 v3.5 M665.2 353.3 v-6.8 M665.2 33 v6.8 M676.64 353.3 v-3.5 M676.64 33 v3.5 M688.08 353.3 v-3.5 M688.08 33 v3.5 M699.52 353.3 v-3.5 M699.52 33 v3.5 M710.96 353.3 v-3.5 M710.96 33 v3.5 M722.4 353.3 v-6.8 M722.4 33 v6.8 M733.84 353.3 v-3.5 M733.84 33 v3.5 M745.28 353.3 v-3.5 M745.28 33 v3.5 M756.72 353.3 v-3.5 M756.72 33 v3.5 M448.4 57.65 h3.5 M768.5 57.65 h-3.5 M448.4 82.3 h3.5 M768.5 82.3 h-3.5 M448.4 106.95 h3.5 M768.5 106.95 h-3.5 M448.4 131.6 h3.5 M768.5 131.6 h-3.5 M448.4 156.25 h6.8 M768.5 156.25 h-6.8 M448.4 180.9 h3.5 M768.5 180.9 h-3.5 M448.4 205.55 h3.5 M768.5 205.55 h-3.5 M448.4 230.2 h3.5 M768.5 230.2 h-3.5 M448.4 254.85 h3.5 M768.5 254.85 h-3.5 M448.4 279.5 h6.8 M768.5 279.5 h-6.8 M448.4 304.15 h3.5 M768.5 304.15 h-3.5 M448.4 328.8 h3.5 M768.5 328.8 h-3.5"/>
</g>
<rect x="401.22" y="92.99" width="13.57" height="19.61" fill="#fff"/><text transform="translate(408 111.11) scale(1 1.05)" font-size="22.6" fill="#0000ff" text-anchor="middle">0</text>
<rect x="390.53" y="141.29" width="26.13" height="19.61" fill="#fff"/><text transform="translate(403.6 159.41) scale(1 1.05)" font-size="22.6" fill="#008000" text-anchor="middle">20</text>
<rect x="390.93" y="166.09" width="26.13" height="19.61" fill="#fff"/><text transform="translate(404 184.21) scale(1 1.05)" font-size="22.6" fill="#ff8000" text-anchor="middle">30</text>
<rect x="390.93" y="190.49" width="26.13" height="19.61" fill="#fff"/><text transform="translate(404 208.61) scale(1 1.05)" font-size="22.6" fill="#ff0000" text-anchor="middle">40</text>
<rect x="390.73" y="215.19" width="26.13" height="19.61" fill="#fff"/><text transform="translate(403.8 233.31) scale(1 1.05)" font-size="22.6" fill="#800000" text-anchor="middle">50</text>
<path transform="translate(315.0 58.8) scale(0.88 0.9)" d="M12.8 -12.0 C11.6 -7.4 9.1 0.2 5.2 0.2 C1.9 0.2 0.5 -2.8 0.5 -6.0 C0.5 -9.4 2.2 -12.3 5.4 -12.3 C9.2 -12.3 10.8 -5.4 11.6 -2.2 C12.0 -0.6 12.6 0.2 13.6 0.0" fill="none" stroke="#000" stroke-width="1.45" stroke-linecap="round"/>
<text transform="translate(327.4 58.6) scale(1 1.0)" font-size="22.6" fill="#000" stroke="#000" stroke-width="0.35">N<tspan font-size="13.5" dy="8.2">0</tspan><tspan dy="-8.2"> (meV)</tspan></text>
<path d="M407.3 64.7 V82" stroke="#222" stroke-width="0.9" fill="none"/>
<path d="M404.9 81 L409.7 81 L407.3 88.9 Z" fill="#000"/>
<rect x="564" y="40.5" width="185" height="23.4" fill="#fff"/>
<path transform="translate(566.6 59.9) scale(0.88 0.9)" d="M12.8 -12.0 C11.6 -7.4 9.1 0.2 5.2 0.2 C1.9 0.2 0.5 -2.8 0.5 -6.0 C0.5 -9.4 2.2 -12.3 5.4 -12.3 C9.2 -12.3 10.8 -5.4 11.6 -2.2 C12.0 -0.6 12.6 0.2 13.6 0.0" fill="none" stroke="#000" stroke-width="1.45" stroke-linecap="round"/>
<text transform="translate(578.8 59.7) scale(1 1.0)" font-size="22.6" fill="#000" stroke="#000" stroke-width="0.35">N<tspan font-size="13.5" dy="8.2">0</tspan><tspan dy="-8.2"> (meV)</tspan></text>
<path d="M674 51.4 H685" stroke="#111" stroke-width="1.1" fill="none"/>
<path d="M683.2 48.9 L691 51.4 L683.2 53.9 Z" fill="#000"/>
<rect x="695.52" y="41.69" width="13.57" height="19.61" fill="#fff"/><text transform="translate(702.3 59.81) scale(1 1.05)" font-size="22.6" fill="#0000ff" text-anchor="middle">0</text>
<rect x="723.53" y="41.69" width="26.13" height="19.61" fill="#fff"/><text transform="translate(736.6 59.81) scale(1 1.05)" font-size="22.6" fill="#008000" text-anchor="middle">20</text>
<rect x="741.33" y="78.39" width="26.13" height="19.61" fill="#fff"/><text transform="translate(754.4 96.51) scale(1 1.05)" font-size="22.6" fill="#ff8000" text-anchor="middle">30</text>
<rect x="741.03" y="150.69" width="26.13" height="19.61" fill="#fff"/><text transform="translate(754.1 168.81) scale(1 1.05)" font-size="22.6" fill="#ff0000" text-anchor="middle">40</text>
<rect x="741.53" y="229.49" width="26.13" height="19.61" fill="#fff"/><text transform="translate(754.6 247.61) scale(1 1.05)" font-size="22.6" fill="#800000" text-anchor="middle">50</text>
<path d="M374.8 300 L286 313.4" stroke="#111" stroke-width="1.3" fill="none"/>
<path d="M279.1 314.5 L288.0 310.6 L288.8 315.6 Z" fill="#000"/>
<text transform="translate(94.3 40.5) scale(1 1.05)" font-size="27" text-anchor="end" fill="#000" stroke="#000" stroke-width="0.4">2.05</text>
<text transform="translate(94.3 129.7) scale(1 1.05)" font-size="27" text-anchor="end" fill="#000" stroke="#000" stroke-width="0.4">2.00</text>
<text transform="translate(94.3 218.9) scale(1 1.05)" font-size="27" text-anchor="end" fill="#000" stroke="#000" stroke-width="0.4">1.95</text>
<text transform="translate(94.3 308) scale(1 1.05)" font-size="27" text-anchor="end" fill="#000" stroke="#000" stroke-width="0.4">1.90</text>
<text transform="translate(774.7 40.5) scale(1 1.05)" font-size="27" text-anchor="start" fill="#000" stroke="#000" stroke-width="0.4">2.30</text>
<text transform="translate(774.7 163.8) scale(1 1.05)" font-size="27" text-anchor="start" fill="#000" stroke="#000" stroke-width="0.4">2.25</text>
<text transform="translate(774.7 287.1) scale(1 1.05)" font-size="27" text-anchor="start" fill="#000" stroke="#000" stroke-width="0.4">2.20</text>
<text transform="translate(100.5 380.8) scale(1 1.05)" font-size="27" text-anchor="middle" fill="#000" stroke="#000" stroke-width="0.4">-1000</text>
<text transform="translate(181 380.8) scale(1 1.05)" font-size="27" text-anchor="middle" fill="#000" stroke="#000" stroke-width="0.4">-500</text>
<text transform="translate(261.2 380.8) scale(1 1.05)" font-size="27" text-anchor="middle" fill="#000" stroke="#000" stroke-width="0.4">0</text>
<text transform="translate(341.2 380.8) scale(1 1.05)" font-size="27" text-anchor="middle" fill="#000" stroke="#000" stroke-width="0.4">500</text>
<text transform="translate(550.8 380.8) scale(1 1.05)" font-size="27" text-anchor="middle" fill="#000" stroke="#000" stroke-width="0.4">-500</text>
<text transform="translate(608 380.8) scale(1 1.05)" font-size="27" text-anchor="middle" fill="#000" stroke="#000" stroke-width="0.4">0</text>
<text transform="translate(665.3 380.8) scale(1 1.05)" font-size="27" text-anchor="middle" fill="#000" stroke="#000" stroke-width="0.4">500</text>
<text transform="translate(722.4 380.8) scale(1 1.05)" font-size="27" text-anchor="middle" fill="#000" stroke="#000" stroke-width="0.4">1000</text>
<text transform="translate(267.9 413.4) scale(1 1.05)" font-size="27" text-anchor="middle" fill="#000" stroke="#000" stroke-width="0.4">Field (mT)</text>
<text transform="translate(614.8 413.4) scale(1 1.05)" font-size="27" text-anchor="middle" fill="#000" stroke="#000" stroke-width="0.4">Field (mT)</text>
<text transform="translate(97 26.1) scale(1 1.05)" font-size="27" text-anchor="start" fill="#000" stroke="#000" stroke-width="0.4" xml:space="preserve">(a)  T = 0.3 K</text>
<text transform="translate(448 26.1) scale(1 1.05)" font-size="27" text-anchor="start" fill="#000" stroke="#000" stroke-width="0.4" xml:space="preserve">(b)  T = 2.0 K</text>
<text transform="translate(30 208) rotate(-90) scale(1 1.05)" font-size="27" text-anchor="middle" fill="#000" stroke="#000" stroke-width="0.4">σ (10<tspan font-size="16" dy="-14.3">3</tspan><tspan dy="14.3"> S/m)</tspan></text>
<rect x="381.5" y="269.9" width="119.5" height="115.8" fill="#fff"/>
<g clip-path="url(#ci)">
<path d="M382 384.3 L382 384.3 L384.66 380.35 L384.41 379.92 L385.88 375.58 L387.58 377.79 L389.44 376.07 L386.97 371.93 L387.92 368.72 L390.34 374.77 L391.92 372.19 L388.72 365.47 L389.45 362.2 L393.77 369.1 L395.9 366.17 L390.39 359 L391.66 355.9 L398.48 363.5 L400.98 360.82 L392.94 352.8 L394.41 349.79 L402.83 358 L404.67 355.18 L395.88 346.78 L397.55 343.89 L406.51 352.29 L408.35 349.32 L399.49 341.16 L401.61 338.59 L410.36 346.47 L412.74 343.86 L404.14 336.4 L406.84 334.41 L415.36 341.08 L417.65 339.42 L409.82 332.92 L412.93 331.66 L419.69 338.16 L421.41 336.61 L416.04 330.42 L419.14 329.15 L422.92 334.46 L424.98 332.28 L422.24 327.88 L425.25 326.42 L427.31 329.53 L429.69 327.11 L428.28 324.98 L431.21 323.37 L432.1 324.65 L434.52 322.23 L434.08 321.63 L436.92 319.87 L436.96 319.92" fill="none" stroke="#800000" stroke-width="1.05" stroke-linejoin="miter"/>
<path d="M382 384.8 L385 379" stroke="#800000" stroke-width="2.2" fill="none"/>
<path d="M434.6 321.4 L439.6 318.4" stroke="#800000" stroke-width="1.6" fill="none"/>
<g fill="#800000"><circle cx="386.97" cy="371.93" r="1.25"/><circle cx="388.72" cy="365.47" r="1.25"/><circle cx="390.39" cy="359" r="1.25"/><circle cx="392.94" cy="352.8" r="1.25"/><circle cx="395.88" cy="346.78" r="1.25"/><circle cx="399.49" cy="341.16" r="1.25"/><circle cx="404.14" cy="336.4" r="1.25"/><circle cx="409.82" cy="332.92" r="1.25"/><circle cx="416.04" cy="330.42" r="1.25"/><circle cx="422.24" cy="327.88" r="1.25"/><circle cx="428.28" cy="324.98" r="1.25"/><circle cx="434.08" cy="321.63" r="1.25"/><circle cx="442.6" cy="316.6" r="1.35"/><circle cx="448.8" cy="311.6" r="1.35"/><circle cx="454.9" cy="306.6" r="1.35"/><circle cx="461.05" cy="301.3" r="1.35"/><circle cx="467" cy="296.1" r="1.35"/><circle cx="472.95" cy="290.8" r="1.35"/><circle cx="478.9" cy="285.5" r="1.35"/><circle cx="484.85" cy="280" r="1.35"/><circle cx="490.8" cy="274.7" r="1.35"/><circle cx="496.7" cy="269.6" r="1.35"/></g>
</g>
<g stroke="#858585" stroke-width="1.15" fill="none">
<rect x="382" y="270.4" width="118.5" height="114.8"/>
<path d="M393.85 385.2 v-1.4 M393.85 270.4 v1.4 M405.7 385.2 v-1.4 M405.7 270.4 v1.4 M417.55 385.2 v-1.4 M417.55 270.4 v1.4 M429.4 385.2 v-1.4 M429.4 270.4 v1.4 M441.25 385.2 v-2.4 M441.25 270.4 v2.4 M453.1 385.2 v-1.4 M453.1 270.4 v1.4 M464.95 385.2 v-1.4 M464.95 270.4 v1.4 M476.8 385.2 v-1.4 M476.8 270.4 v1.4 M488.65 385.2 v-1.4 M488.65 270.4 v1.4 M382 302.4 h1.6 M500.5 302.4 h-1.6 M382 335.7 h1.6 M500.5 335.7 h-1.6 M382 368.4 h1.6 M500.5 368.4 h-1.6" stroke="#555" stroke-width="1"/>
</g>
<text transform="translate(382 410.4) scale(1 1.05)" font-size="20.2" text-anchor="middle" fill="#000" stroke="#000" stroke-width="0.4">0</text>
<text transform="translate(441 410.4) scale(1 1.05)" font-size="20.2" text-anchor="middle" fill="#000" stroke="#000" stroke-width="0.4">250</text>
<text transform="translate(499.9 410.4) scale(1 1.05)" font-size="20.2" text-anchor="middle" fill="#000" stroke="#000" stroke-width="0.4">500</text>
</svg>
</body>
</html>
